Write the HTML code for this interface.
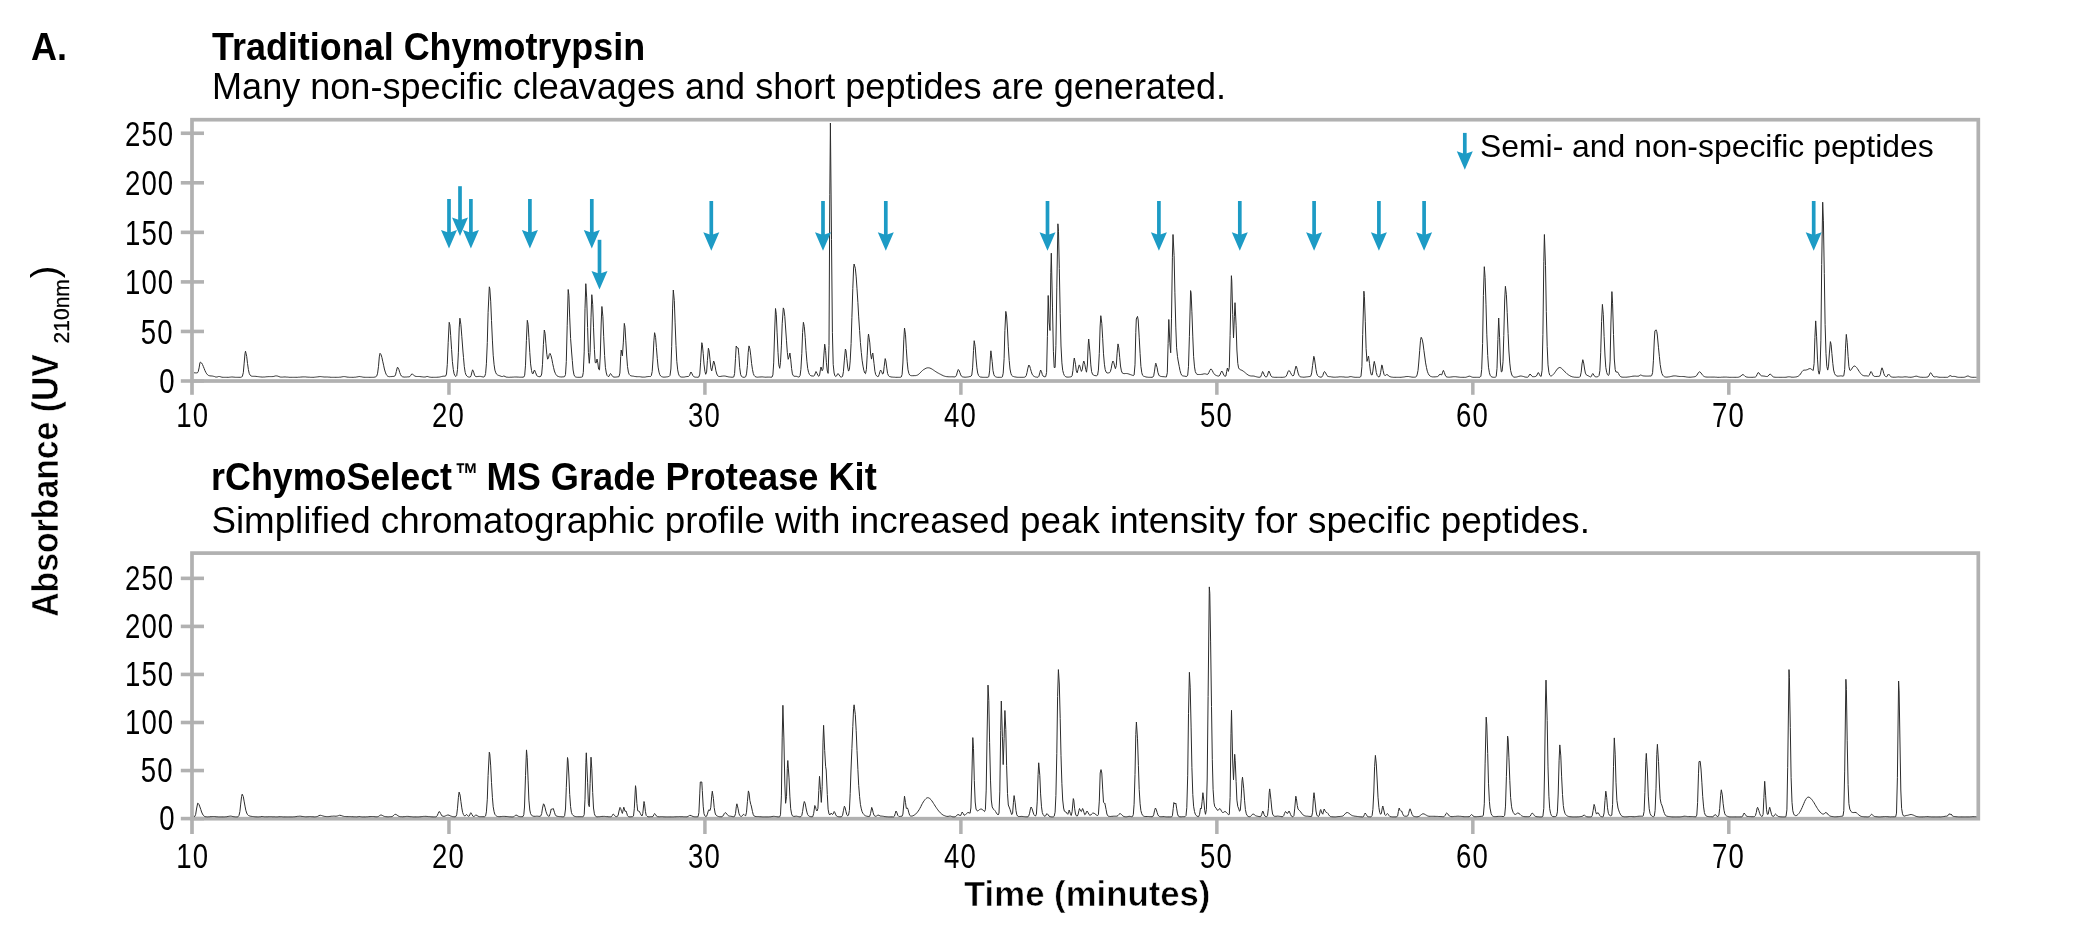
<!DOCTYPE html>
<html><head><meta charset="utf-8"><title>Chymotrypsin chromatograms</title>
<style>
html,body{margin:0;padding:0;background:#fff;}
body{width:2084px;height:938px;position:relative;overflow:hidden;font-family:"Liberation Sans",sans-serif;}
</style></head><body>
<svg width="2084" height="938" viewBox="0 0 2084 938" style="position:absolute;left:0;top:0;will-change:transform">
<rect x="192.00" y="119.70" width="1786.30" height="261.30" fill="none" stroke="#b1b1b1" stroke-width="3.7"/>
<path d="M192.00 381.00 V394.80" stroke="#b1b1b1" stroke-width="3.7"/>
<path d="M448.95 381.00 V394.80" stroke="#b1b1b1" stroke-width="3.5"/>
<path d="M704.92 381.00 V394.80" stroke="#b1b1b1" stroke-width="3.5"/>
<path d="M960.89 381.00 V394.80" stroke="#b1b1b1" stroke-width="3.5"/>
<path d="M1216.86 381.00 V394.80" stroke="#b1b1b1" stroke-width="3.5"/>
<path d="M1472.83 381.00 V394.80" stroke="#b1b1b1" stroke-width="3.5"/>
<path d="M1728.80 381.00 V394.80" stroke="#b1b1b1" stroke-width="3.5"/>
<path d="M180.80 381.00 H204.00" stroke="#b1b1b1" stroke-width="3.6"/>
<path d="M180.80 331.45 H204.00" stroke="#b1b1b1" stroke-width="3.6"/>
<path d="M180.80 281.90 H204.00" stroke="#b1b1b1" stroke-width="3.6"/>
<path d="M180.80 232.35 H204.00" stroke="#b1b1b1" stroke-width="3.6"/>
<path d="M180.80 182.80 H204.00" stroke="#b1b1b1" stroke-width="3.6"/>
<path d="M180.80 133.25 H204.00" stroke="#b1b1b1" stroke-width="3.6"/>
<rect x="192.00" y="553.10" width="1786.30" height="265.60" fill="none" stroke="#b1b1b1" stroke-width="3.7"/>
<path d="M192.00 818.70 V834.00" stroke="#b1b1b1" stroke-width="3.7"/>
<path d="M448.95 818.70 V834.00" stroke="#b1b1b1" stroke-width="3.5"/>
<path d="M704.92 818.70 V834.00" stroke="#b1b1b1" stroke-width="3.5"/>
<path d="M960.89 818.70 V834.00" stroke="#b1b1b1" stroke-width="3.5"/>
<path d="M1216.86 818.70 V834.00" stroke="#b1b1b1" stroke-width="3.5"/>
<path d="M1472.83 818.70 V834.00" stroke="#b1b1b1" stroke-width="3.5"/>
<path d="M1728.80 818.70 V834.00" stroke="#b1b1b1" stroke-width="3.5"/>
<path d="M180.80 818.60 H204.00" stroke="#b1b1b1" stroke-width="3.6"/>
<path d="M180.80 770.55 H204.00" stroke="#b1b1b1" stroke-width="3.6"/>
<path d="M180.80 722.50 H204.00" stroke="#b1b1b1" stroke-width="3.6"/>
<path d="M180.80 674.45 H204.00" stroke="#b1b1b1" stroke-width="3.6"/>
<path d="M180.80 626.40 H204.00" stroke="#b1b1b1" stroke-width="3.6"/>
<path d="M180.80 578.35 H204.00" stroke="#b1b1b1" stroke-width="3.6"/>
<path d="M194.0 372.8 L194.8 372.8 L195.7 372.9 L196.5 372.9 L197.4 372.8 L198.2 371.7 L199.1 367.9 L199.9 363.0 L200.4 362.1 L201.6 363.0 L202.5 364.5 L203.3 366.4 L204.2 368.6 L205.0 370.7 L205.9 372.5 L206.7 373.8 L207.6 374.8 L208.4 375.4 L209.3 375.7 L210.1 375.9 L211.0 375.9 L211.8 376.0 L212.7 376.1 L213.5 376.3 L214.4 376.5 L215.2 376.9 L216.1 377.0 L216.9 377.0 L217.8 376.8 L218.6 376.5 L219.5 376.5 L220.3 376.7 L221.2 377.0 L222.0 377.2 L222.9 377.3 L223.7 377.3 L224.6 377.3 L225.4 377.3 L226.3 377.3 L227.1 377.3 L228.0 377.3 L228.8 377.3 L229.7 377.2 L230.5 377.1 L231.4 377.0 L232.2 377.0 L233.1 377.0 L233.9 377.2 L234.8 377.2 L235.6 377.3 L236.5 377.3 L237.3 377.3 L238.2 377.3 L239.0 377.3 L239.9 377.3 L240.7 377.3 L241.6 377.1 L242.4 376.2 L243.3 372.7 L244.1 363.9 L245.0 353.5 L245.5 351.2 L246.7 356.4 L247.5 363.4 L248.4 369.6 L249.2 373.3 L250.1 375.1 L250.9 375.9 L251.8 376.2 L252.6 376.3 L253.5 376.3 L254.3 376.3 L255.2 376.3 L256.0 376.4 L256.9 376.5 L257.7 376.6 L258.6 376.7 L259.4 376.8 L260.3 376.9 L261.1 377.0 L262.0 377.0 L262.8 377.1 L263.7 377.0 L264.5 377.0 L265.4 376.9 L266.2 376.8 L267.1 376.7 L267.9 376.7 L268.8 376.6 L269.6 376.6 L270.5 376.6 L271.4 376.6 L272.2 376.6 L273.1 376.5 L273.9 376.4 L274.8 376.1 L275.6 375.9 L276.5 375.9 L277.3 376.0 L278.2 376.3 L279.0 376.6 L279.9 376.9 L280.7 377.1 L281.6 377.1 L282.4 377.1 L283.3 377.0 L284.1 377.0 L285.0 376.9 L285.8 377.0 L286.7 377.1 L287.5 377.1 L288.4 377.2 L289.2 377.3 L290.1 377.3 L290.9 377.3 L291.8 377.3 L292.6 377.3 L293.5 377.3 L294.3 377.3 L295.2 377.3 L296.0 377.3 L296.9 377.3 L297.7 377.3 L298.6 377.2 L299.4 377.2 L300.3 377.1 L301.1 377.0 L302.0 377.0 L302.8 376.9 L303.7 376.9 L304.5 376.9 L305.4 376.9 L306.2 377.0 L307.1 377.1 L307.9 377.1 L308.8 377.2 L309.6 377.2 L310.5 377.3 L311.3 377.3 L312.2 377.3 L313.0 377.3 L313.9 377.3 L314.7 377.2 L315.6 377.1 L316.4 377.0 L317.3 376.9 L318.1 376.8 L319.0 376.7 L319.8 376.6 L320.7 376.6 L321.5 376.7 L322.4 376.8 L323.2 376.9 L324.1 377.0 L324.9 377.0 L325.8 377.0 L326.6 377.0 L327.5 377.0 L328.3 377.1 L329.2 377.1 L330.0 377.2 L330.9 377.3 L331.7 377.3 L332.6 377.3 L333.4 377.3 L334.3 377.3 L335.1 377.3 L336.0 377.3 L336.8 377.3 L337.7 377.3 L338.5 377.3 L339.4 377.2 L340.2 377.2 L341.1 377.0 L341.9 376.9 L342.8 376.7 L343.6 376.6 L344.5 376.6 L345.3 376.7 L346.2 376.9 L347.0 377.0 L347.9 377.2 L348.7 377.2 L349.6 377.3 L350.4 377.3 L351.3 377.3 L352.1 377.3 L353.0 377.3 L353.8 377.3 L354.7 377.2 L355.5 377.2 L356.4 377.0 L357.2 376.9 L358.1 376.7 L358.9 376.6 L359.8 376.5 L360.6 376.7 L361.5 376.8 L362.3 377.0 L363.2 377.2 L364.0 377.2 L364.9 377.3 L365.7 377.3 L366.6 377.3 L367.4 377.3 L368.3 377.3 L369.1 377.3 L370.0 377.3 L370.8 377.3 L371.7 377.3 L372.5 377.3 L373.4 377.3 L374.2 377.2 L375.1 377.0 L375.9 376.7 L376.8 375.9 L377.6 373.2 L378.5 366.3 L379.3 356.9 L380.0 353.3 L381.0 354.6 L381.9 357.4 L382.7 361.2 L383.6 365.2 L384.4 369.0 L385.3 372.1 L386.1 374.2 L387.0 375.6 L387.8 376.3 L388.7 376.6 L389.5 376.7 L390.4 376.6 L391.2 376.6 L392.1 376.5 L392.9 376.4 L393.8 376.4 L394.6 376.2 L395.5 374.9 L396.3 371.6 L397.2 367.9 L397.6 367.2 L398.9 369.5 L399.7 372.4 L400.6 374.7 L401.4 376.0 L402.3 376.7 L403.1 376.9 L404.0 377.0 L404.8 377.1 L405.7 377.0 L406.5 377.0 L407.4 376.9 L408.2 376.9 L409.1 376.8 L409.9 376.5 L410.8 375.3 L411.7 374.0 L412.5 374.2 L413.3 374.8 L414.2 375.6 L415.0 376.1 L415.9 376.4 L416.7 376.5 L417.6 376.5 L418.4 376.5 L419.3 376.5 L420.1 376.6 L421.0 376.7 L421.8 376.8 L422.7 376.9 L423.5 377.0 L424.4 377.0 L425.2 377.0 L426.1 376.7 L426.9 376.5 L427.8 376.5 L428.6 376.8 L429.5 377.1 L430.3 377.2 L431.2 377.3 L432.0 377.3 L432.9 377.3 L433.7 377.3 L434.6 377.3 L435.4 377.3 L436.3 377.3 L437.1 377.2 L438.0 377.2 L438.8 377.1 L439.7 377.0 L440.5 376.8 L441.4 376.6 L442.2 376.4 L443.1 376.2 L443.9 376.2 L444.8 376.2 L445.6 376.1 L446.5 374.0 L447.3 364.3 L448.2 342.3 L449.2 322.3 L449.9 324.9 L450.7 335.7 L451.6 349.6 L452.4 361.6 L453.3 369.5 L454.1 373.8 L455.0 375.8 L455.8 376.5 L456.7 375.6 L457.5 369.5 L458.4 352.2 L459.2 327.9 L459.9 318.2 L460.9 324.6 L461.8 336.3 L463.0 352.0 L463.5 357.6 L464.3 366.7 L465.2 372.4 L466.0 374.9 L466.9 376.1 L467.7 376.7 L468.6 377.0 L469.4 377.1 L470.3 377.0 L471.1 375.7 L472.0 371.7 L472.6 369.8 L473.7 372.2 L474.5 375.1 L475.4 376.4 L476.2 376.6 L477.1 376.6 L477.9 376.5 L478.8 376.4 L479.6 376.4 L480.5 376.4 L481.3 376.6 L482.2 376.8 L483.0 376.9 L483.9 377.0 L484.7 376.4 L485.6 373.5 L486.4 363.8 L487.3 342.5 L488.1 312.4 L489.3 286.8 L489.8 288.7 L490.7 301.2 L491.5 320.6 L492.4 340.1 L493.2 355.2 L494.1 364.8 L494.9 370.1 L495.8 372.8 L496.6 374.2 L497.5 374.9 L498.3 375.3 L499.2 375.6 L500.0 375.9 L500.9 376.2 L501.7 376.5 L502.6 376.5 L503.4 376.1 L504.0 376.0 L505.1 376.5 L506.0 377.0 L506.8 377.2 L507.7 377.2 L508.5 377.3 L509.4 377.3 L510.2 377.2 L511.1 377.2 L511.9 377.2 L512.8 377.1 L513.6 377.1 L514.5 377.0 L515.3 377.0 L516.2 377.0 L517.0 377.0 L517.9 377.1 L518.7 377.1 L519.6 377.2 L520.4 377.2 L521.3 377.2 L522.1 377.2 L523.0 377.2 L523.8 377.0 L524.7 375.2 L525.5 365.2 L526.4 340.6 L527.3 320.3 L528.1 324.3 L528.9 337.4 L529.8 352.5 L530.6 363.9 L531.5 370.5 L532.3 373.5 L533.2 373.5 L534.0 370.8 L534.5 370.0 L535.7 372.8 L536.6 375.2 L537.4 376.2 L538.3 376.5 L539.1 376.7 L540.0 376.7 L540.8 376.3 L541.7 374.0 L542.5 364.3 L543.4 344.6 L544.3 330.0 L545.1 333.4 L545.9 343.8 L546.8 354.3 L547.6 359.2 L548.5 357.9 L549.3 354.3 L550.0 353.4 L551.0 355.7 L551.9 359.3 L552.7 363.6 L553.6 367.7 L554.4 371.0 L555.3 373.3 L556.1 374.8 L557.0 375.8 L557.8 376.3 L558.7 376.6 L559.5 376.8 L560.4 376.9 L561.2 377.0 L562.1 376.9 L562.9 376.9 L563.8 376.8 L564.6 376.6 L565.5 374.5 L566.3 361.5 L567.2 325.8 L568.2 289.5 L568.9 295.3 L569.7 317.1 L570.6 338.5 L571.6 352.0 L572.3 360.5 L573.1 370.0 L574.0 374.8 L574.8 376.4 L575.7 377.0 L576.5 377.2 L577.4 377.3 L578.2 377.3 L579.1 377.3 L579.9 377.3 L580.8 377.2 L581.6 377.1 L582.5 376.7 L583.3 372.4 L584.2 351.9 L585.0 308.8 L585.8 283.7 L586.7 297.9 L587.6 327.4 L588.4 352.5 L589.3 363.3 L590.1 352.5 L591.0 317.9 L591.8 294.7 L592.7 304.4 L593.5 327.2 L594.4 349.5 L595.2 362.5 L596.1 363.0 L597.0 359.0 L597.8 362.8 L598.6 369.2 L599.5 369.9 L600.3 355.0 L601.2 323.0 L601.9 306.5 L602.9 316.6 L603.7 336.7 L604.6 355.5 L605.4 367.3 L606.3 373.0 L607.1 375.5 L608.0 376.5 L608.8 376.5 L609.7 374.9 L610.5 373.5 L611.4 374.4 L612.2 375.9 L613.1 376.8 L613.9 377.1 L614.8 377.1 L615.6 377.1 L616.5 377.0 L617.3 376.9 L618.2 376.8 L619.0 376.6 L619.9 373.1 L620.7 356.7 L621.2 350.0 L622.4 355.9 L623.3 342.9 L624.3 323.4 L625.0 327.3 L625.8 340.8 L626.7 356.0 L627.5 366.6 L628.4 372.1 L629.2 374.4 L630.1 375.4 L630.9 375.8 L631.8 376.0 L632.6 376.1 L633.5 376.2 L634.3 376.4 L635.2 376.5 L636.0 376.7 L636.9 376.7 L637.7 376.7 L638.6 376.7 L639.4 376.7 L640.3 376.8 L641.1 376.9 L642.0 377.1 L642.8 377.1 L643.7 377.1 L644.5 377.1 L645.4 377.0 L646.2 376.8 L647.1 376.7 L647.9 376.6 L648.8 376.5 L649.6 376.5 L650.5 376.5 L651.3 375.7 L652.2 371.5 L653.0 359.1 L653.9 340.8 L654.6 332.7 L655.6 337.4 L656.4 347.6 L657.3 358.7 L658.1 367.1 L659.0 372.1 L659.8 374.7 L660.7 376.0 L661.5 376.6 L662.4 376.9 L663.2 377.1 L664.1 377.1 L664.9 377.1 L665.8 377.0 L666.6 376.9 L667.5 376.8 L668.3 376.6 L669.2 376.4 L670.0 375.4 L670.9 369.0 L671.7 346.3 L672.6 308.1 L673.3 290.0 L674.3 300.5 L675.1 322.9 L676.0 345.5 L676.8 361.3 L677.7 369.9 L678.5 373.9 L679.4 375.8 L680.2 376.7 L681.1 377.0 L681.9 377.1 L682.8 377.1 L683.6 377.1 L684.5 377.0 L685.3 376.8 L686.2 376.7 L687.0 376.5 L687.9 376.5 L688.7 376.3 L689.6 375.4 L690.4 373.0 L691.0 372.0 L692.1 373.9 L693.0 375.8 L693.8 376.7 L694.7 377.0 L695.5 377.2 L696.4 377.2 L697.2 377.3 L698.1 377.2 L698.9 376.9 L699.8 374.1 L700.6 362.2 L701.8 342.7 L702.3 344.3 L703.2 353.3 L704.0 364.1 L704.9 371.3 L705.7 374.3 L706.6 372.1 L707.4 360.6 L708.4 348.2 L709.1 350.9 L710.0 359.5 L710.8 367.8 L711.7 370.9 L712.5 367.0 L713.6 361.0 L714.2 362.1 L715.1 366.1 L715.9 370.8 L716.8 374.0 L717.6 375.7 L718.5 376.3 L719.3 376.5 L720.2 376.5 L721.0 376.3 L721.9 376.2 L722.7 376.1 L723.6 376.0 L724.4 376.0 L725.3 376.1 L726.1 376.3 L727.0 376.5 L727.8 376.7 L728.7 376.9 L729.5 377.0 L730.4 377.1 L731.2 377.2 L732.1 377.2 L732.9 377.2 L733.8 376.9 L734.6 373.5 L735.5 358.3 L736.2 346.0 L737.2 347.8 L738.2 348.0 L738.9 355.5 L739.7 367.6 L740.6 374.3 L741.4 376.3 L742.3 376.9 L743.1 377.2 L744.0 377.3 L744.8 377.2 L745.7 376.7 L746.5 373.9 L747.4 365.4 L748.2 352.4 L749.0 345.9 L749.9 348.8 L750.8 355.8 L751.6 363.6 L752.5 369.7 L753.3 373.5 L754.2 375.5 L755.0 376.5 L755.9 376.9 L756.7 377.1 L757.6 377.2 L758.4 377.1 L759.3 377.0 L760.1 377.0 L761.0 376.9 L761.8 376.9 L762.7 376.9 L763.5 377.0 L764.4 377.1 L765.2 377.2 L766.1 377.2 L766.9 377.1 L767.8 377.1 L768.6 377.1 L769.5 377.1 L770.3 377.2 L771.2 377.2 L772.0 377.1 L772.9 374.9 L773.7 362.9 L774.6 333.0 L775.5 308.5 L776.3 314.5 L777.1 332.9 L778.0 352.3 L778.8 364.8 L779.7 368.3 L780.5 362.3 L781.4 345.9 L782.2 323.8 L783.3 307.9 L783.9 309.3 L784.8 316.5 L785.6 328.0 L786.5 340.8 L787.3 352.3 L788.2 359.3 L789.0 357.1 L789.9 353.0 L790.7 359.2 L791.6 368.5 L792.4 373.9 L793.3 375.7 L794.1 376.2 L795.0 376.3 L795.8 376.3 L796.7 376.4 L797.5 376.7 L798.4 377.0 L799.2 376.9 L800.1 375.5 L800.9 369.3 L801.8 353.7 L802.6 332.5 L803.4 322.3 L804.3 326.6 L805.2 337.5 L806.0 350.4 L806.9 361.2 L807.7 368.4 L808.6 372.4 L809.4 374.4 L810.3 375.4 L811.1 375.8 L812.0 376.0 L812.8 376.0 L813.7 376.0 L814.5 375.4 L815.4 372.9 L816.0 371.5 L817.1 373.5 L817.9 375.5 L818.8 376.3 L819.6 374.9 L820.5 369.2 L821.0 367.0 L822.2 370.8 L823.0 369.1 L823.9 355.1 L824.7 344.2 L825.6 350.5 L826.4 362.7 L827.3 371.0 L828.1 373.4 L829.0 345.5 L829.8 194.7 L830.4 123.0 L831.5 239.3 L832.4 332.3 L833.2 364.4 L834.1 373.0 L834.9 375.8 L835.8 376.5 L836.6 375.9 L837.5 374.1 L838.0 373.5 L839.2 375.0 L840.0 376.4 L840.9 377.0 L841.7 377.1 L842.6 376.2 L843.4 371.8 L844.3 360.9 L845.4 349.0 L846.0 350.7 L846.8 358.6 L847.7 367.0 L848.5 371.1 L849.4 369.5 L850.2 360.9 L851.1 343.5 L851.9 317.5 L852.8 288.6 L853.6 268.0 L854.1 264.0 L855.3 268.2 L856.2 276.9 L857.0 288.8 L857.9 302.6 L858.7 316.9 L859.6 330.5 L860.4 342.5 L861.3 352.4 L862.1 360.2 L863.0 366.1 L863.8 370.2 L864.7 372.9 L865.5 373.7 L866.4 369.5 L867.2 355.2 L868.1 337.5 L868.5 334.0 L869.8 342.9 L870.6 353.9 L871.5 359.1 L872.3 354.2 L872.8 353.0 L874.0 363.4 L874.9 371.2 L875.7 374.6 L876.6 375.9 L877.4 376.5 L878.3 376.5 L879.1 374.7 L880.0 371.4 L880.6 370.0 L881.7 371.7 L882.5 374.0 L883.4 373.4 L884.2 366.4 L885.2 358.6 L885.9 361.1 L886.8 368.1 L887.6 373.5 L888.5 375.7 L889.3 376.4 L890.2 376.7 L891.0 376.9 L891.9 377.1 L892.7 377.1 L893.6 377.2 L894.4 377.2 L895.3 377.3 L896.1 377.3 L897.0 377.3 L897.8 377.3 L898.7 377.3 L899.5 377.3 L900.4 377.3 L901.2 377.0 L902.1 374.5 L902.9 363.0 L903.8 339.9 L904.5 328.0 L905.5 334.8 L906.3 348.8 L907.2 361.8 L908.0 369.8 L908.9 373.5 L909.7 375.0 L910.6 375.5 L911.4 375.7 L912.3 375.7 L913.1 375.7 L914.0 375.7 L914.8 375.6 L915.7 375.6 L916.5 375.4 L917.4 375.1 L918.2 374.6 L919.1 373.9 L919.9 373.1 L920.8 372.2 L921.6 371.3 L922.5 370.5 L923.3 369.8 L924.2 369.3 L925.0 368.8 L925.9 368.3 L926.7 368.0 L927.6 367.8 L928.4 367.8 L929.3 367.9 L930.1 368.2 L931.0 368.5 L931.8 369.0 L932.7 369.5 L933.5 370.1 L934.4 370.7 L935.2 371.3 L936.1 371.8 L936.9 372.4 L937.8 372.9 L938.6 373.3 L939.5 373.8 L940.3 374.2 L941.2 374.7 L942.0 375.1 L942.9 375.5 L943.7 375.9 L944.6 376.2 L945.4 376.4 L946.3 376.6 L947.1 376.7 L948.0 376.7 L948.8 376.8 L949.7 376.8 L950.5 376.8 L951.4 376.8 L952.2 376.8 L953.1 376.8 L953.9 376.9 L954.8 376.9 L955.6 376.6 L956.5 375.2 L957.3 372.1 L958.3 369.5 L959.0 370.3 L959.9 372.6 L960.7 374.9 L961.6 376.3 L962.4 376.8 L963.3 377.0 L964.1 377.1 L965.0 377.2 L965.8 377.2 L966.7 377.1 L967.5 377.0 L968.4 376.9 L969.2 376.7 L970.1 376.5 L970.9 376.3 L971.8 375.0 L972.6 367.9 L973.5 350.6 L974.2 340.7 L975.2 346.7 L976.0 358.1 L976.9 367.8 L977.7 373.1 L978.6 375.5 L979.4 376.5 L980.3 377.0 L981.1 377.1 L982.0 377.2 L982.8 377.3 L983.7 377.3 L984.5 377.3 L985.4 377.3 L986.2 377.3 L987.1 377.3 L987.9 377.2 L988.8 376.7 L989.6 370.9 L990.5 355.2 L990.9 350.8 L992.2 361.7 L993.0 370.7 L993.9 374.7 L994.7 376.2 L995.6 376.8 L996.4 377.1 L997.3 377.3 L998.1 377.3 L999.0 377.3 L999.8 377.3 L1000.7 377.3 L1001.5 377.3 L1002.4 376.8 L1003.2 373.2 L1004.1 358.7 L1004.9 330.4 L1005.8 311.4 L1006.6 316.0 L1007.5 330.0 L1008.3 346.8 L1009.2 360.4 L1010.0 369.0 L1010.9 373.4 L1011.7 375.4 L1012.6 376.2 L1013.4 376.5 L1014.3 376.8 L1015.1 376.9 L1016.0 377.1 L1016.8 377.2 L1017.7 377.3 L1018.5 377.3 L1019.4 377.3 L1020.2 377.3 L1021.1 377.3 L1021.9 377.3 L1022.8 377.3 L1023.6 377.3 L1024.5 377.2 L1025.3 376.9 L1026.2 375.7 L1027.0 372.6 L1027.9 368.1 L1028.8 365.0 L1029.6 365.8 L1030.4 368.5 L1031.3 371.7 L1032.1 374.1 L1033.0 375.5 L1033.8 376.2 L1034.7 376.7 L1035.5 377.0 L1036.4 377.1 L1037.2 377.2 L1038.1 377.2 L1038.9 376.3 L1039.8 372.9 L1040.6 370.0 L1041.5 371.6 L1042.3 374.6 L1043.2 376.2 L1044.0 376.7 L1044.9 376.8 L1045.7 376.6 L1046.6 372.4 L1047.4 336.3 L1048.2 295.5 L1049.1 322.1 L1050.0 330.5 L1050.8 272.7 L1051.3 253.2 L1052.5 307.9 L1053.4 351.3 L1054.2 367.5 L1055.1 367.5 L1055.9 345.7 L1056.8 287.9 L1057.9 223.8 L1058.5 231.3 L1059.3 268.4 L1060.2 313.5 L1061.0 346.0 L1061.9 362.9 L1062.7 370.3 L1063.6 373.7 L1064.4 375.5 L1065.3 376.5 L1066.1 376.9 L1067.0 377.1 L1067.8 377.1 L1068.7 377.1 L1069.5 377.0 L1070.4 376.9 L1071.2 376.8 L1072.1 375.8 L1072.9 370.7 L1073.8 361.1 L1074.3 358.0 L1075.5 364.3 L1076.3 370.8 L1077.2 372.8 L1078.0 369.7 L1079.2 364.9 L1079.7 365.6 L1080.6 368.8 L1081.4 371.4 L1082.3 369.5 L1083.1 363.6 L1083.8 361.0 L1084.8 364.3 L1085.7 369.4 L1086.5 372.2 L1087.4 365.0 L1088.2 345.0 L1088.7 339.0 L1089.9 351.9 L1090.8 364.9 L1091.6 371.7 L1092.5 374.1 L1093.3 375.0 L1094.2 375.4 L1095.0 375.6 L1095.9 375.7 L1096.7 375.7 L1097.6 375.0 L1098.4 370.1 L1099.3 353.4 L1100.1 327.0 L1100.8 315.7 L1101.8 323.4 L1102.7 338.7 L1103.5 353.8 L1104.4 364.2 L1105.2 369.6 L1106.1 372.0 L1106.9 372.9 L1107.8 373.0 L1108.6 372.9 L1109.5 372.7 L1110.3 371.7 L1111.2 368.7 L1112.0 363.8 L1112.9 361.0 L1113.7 362.4 L1114.6 366.0 L1115.4 368.7 L1116.3 365.6 L1117.1 353.3 L1118.0 343.9 L1118.8 347.8 L1119.7 357.3 L1120.5 366.0 L1121.4 370.9 L1122.2 372.8 L1123.1 373.4 L1123.9 373.6 L1124.8 373.6 L1125.6 373.5 L1126.5 373.5 L1127.3 373.6 L1128.2 373.8 L1129.0 374.1 L1129.9 374.4 L1130.7 374.7 L1131.6 375.0 L1132.4 375.3 L1133.3 375.6 L1134.1 375.0 L1135.0 364.8 L1135.8 332.3 L1136.3 319.0 L1137.5 316.4 L1138.2 320.0 L1139.2 337.2 L1140.1 353.7 L1140.9 366.3 L1141.8 372.8 L1142.6 375.3 L1143.5 376.1 L1144.3 376.4 L1145.2 376.7 L1146.0 377.0 L1146.9 377.1 L1147.7 377.2 L1148.6 377.3 L1149.4 377.3 L1150.3 377.3 L1151.1 377.3 L1152.0 377.3 L1152.8 377.1 L1153.7 375.8 L1154.5 371.1 L1155.4 364.6 L1155.8 363.2 L1157.1 367.6 L1157.9 372.3 L1158.8 375.0 L1159.6 376.0 L1160.5 376.3 L1161.3 376.5 L1162.2 376.6 L1163.0 376.7 L1163.9 376.7 L1164.7 376.8 L1165.6 376.9 L1166.4 376.9 L1167.3 372.8 L1168.1 343.5 L1168.8 319.5 L1169.8 342.3 L1170.7 352.8 L1171.5 318.2 L1172.4 257.2 L1173.0 234.5 L1174.1 255.6 L1174.9 292.8 L1175.8 327.1 L1176.6 347.8 L1177.5 356.7 L1178.0 360.0 L1179.2 366.3 L1180.0 370.5 L1180.9 373.6 L1181.7 375.2 L1182.6 375.8 L1183.4 376.0 L1184.3 376.1 L1185.1 376.3 L1186.0 376.4 L1186.8 376.4 L1187.7 375.2 L1188.5 366.3 L1189.4 336.3 L1190.6 290.6 L1191.1 293.1 L1191.9 311.8 L1192.8 336.9 L1193.6 356.3 L1194.5 366.9 L1195.3 371.6 L1196.2 373.5 L1197.0 374.3 L1197.9 374.5 L1198.7 374.5 L1199.6 374.5 L1200.4 374.5 L1201.3 374.4 L1202.1 374.3 L1203.0 374.1 L1203.8 373.9 L1204.7 373.8 L1205.5 373.9 L1206.4 374.2 L1207.2 374.4 L1208.1 374.0 L1208.9 372.5 L1209.8 370.4 L1210.8 369.0 L1211.5 369.3 L1212.3 370.6 L1213.1 372.3 L1214.0 373.7 L1214.8 374.7 L1215.7 375.2 L1216.5 375.6 L1217.4 375.9 L1218.2 376.1 L1219.1 376.0 L1219.9 375.1 L1220.8 372.7 L1221.7 371.0 L1222.5 371.9 L1223.3 374.0 L1224.2 375.7 L1225.0 376.4 L1225.9 376.0 L1226.7 371.3 L1227.4 368.0 L1228.4 371.4 L1229.3 367.4 L1230.1 335.4 L1231.4 275.7 L1231.8 281.2 L1232.7 314.5 L1233.5 337.9 L1234.4 316.5 L1235.0 302.7 L1236.1 325.2 L1236.9 350.0 L1237.8 363.5 L1238.6 367.9 L1239.5 369.2 L1240.3 369.7 L1241.2 370.0 L1242.0 370.4 L1242.9 370.9 L1243.7 371.5 L1244.6 372.2 L1245.4 372.9 L1246.3 373.7 L1247.1 374.3 L1248.0 374.9 L1248.8 375.4 L1249.7 375.7 L1250.5 375.9 L1251.4 376.0 L1252.2 376.0 L1253.1 376.0 L1253.9 376.1 L1254.8 376.3 L1255.6 376.6 L1256.5 376.8 L1257.3 377.0 L1258.2 377.2 L1259.0 377.2 L1259.9 377.2 L1260.7 376.8 L1261.6 374.4 L1262.6 371.5 L1263.3 372.4 L1264.1 374.8 L1265.0 376.4 L1265.8 376.9 L1266.7 376.8 L1267.5 375.3 L1268.4 371.9 L1268.9 371.0 L1270.1 373.6 L1270.9 375.9 L1271.8 376.8 L1272.6 377.1 L1273.5 377.2 L1274.3 377.3 L1275.2 377.3 L1276.0 377.3 L1276.9 377.3 L1277.7 377.3 L1278.6 377.3 L1279.4 377.3 L1280.3 377.3 L1281.1 377.3 L1282.0 377.3 L1282.8 377.3 L1283.7 377.2 L1284.5 377.1 L1285.4 376.9 L1286.2 376.1 L1287.1 374.3 L1287.9 371.9 L1288.8 370.5 L1289.6 371.0 L1290.5 372.6 L1291.3 374.3 L1292.2 375.5 L1293.0 376.0 L1293.9 374.9 L1294.7 371.1 L1296.0 366.0 L1296.4 366.5 L1297.3 369.5 L1298.1 373.1 L1299.0 375.4 L1299.8 376.5 L1300.7 376.9 L1301.5 377.0 L1302.4 377.1 L1303.2 377.2 L1304.1 377.2 L1304.9 377.1 L1305.8 377.0 L1306.6 376.9 L1307.5 376.8 L1308.3 376.7 L1309.2 376.6 L1310.0 376.5 L1310.9 375.9 L1311.7 372.9 L1312.6 365.4 L1313.8 356.3 L1314.3 357.4 L1315.1 363.1 L1316.0 369.6 L1316.8 373.8 L1317.7 375.7 L1318.5 376.5 L1319.4 376.8 L1320.2 377.1 L1321.1 377.2 L1321.9 376.9 L1322.8 375.5 L1323.6 373.0 L1324.5 371.5 L1325.3 372.3 L1326.2 374.1 L1327.0 375.6 L1327.9 376.4 L1328.7 376.6 L1329.6 376.7 L1330.4 376.7 L1331.3 376.9 L1332.1 377.0 L1333.0 377.1 L1333.8 377.2 L1334.7 377.2 L1335.5 377.2 L1336.4 377.1 L1337.2 377.1 L1338.1 377.0 L1338.9 376.9 L1339.8 376.8 L1340.6 376.8 L1341.5 376.8 L1342.3 376.9 L1343.2 376.9 L1344.0 377.0 L1344.9 377.1 L1345.7 377.2 L1346.6 377.2 L1347.4 377.2 L1348.3 377.1 L1349.1 376.9 L1350.0 376.7 L1350.8 376.6 L1351.7 376.7 L1352.5 376.9 L1353.4 377.1 L1354.2 377.2 L1355.1 377.3 L1355.9 377.3 L1356.8 377.3 L1357.6 377.3 L1358.5 377.3 L1359.3 377.3 L1360.2 377.2 L1361.0 376.1 L1361.9 366.7 L1362.7 334.5 L1363.9 291.2 L1364.4 296.5 L1365.3 321.8 L1366.1 348.5 L1367.0 361.4 L1367.8 358.5 L1368.5 356.0 L1369.5 363.6 L1370.4 371.2 L1371.2 374.7 L1372.1 375.0 L1372.9 371.0 L1373.8 363.4 L1374.3 361.4 L1375.5 367.0 L1376.3 372.6 L1377.2 375.5 L1378.0 376.6 L1378.9 376.9 L1379.7 376.5 L1380.6 372.7 L1381.8 364.9 L1382.3 365.9 L1383.1 370.5 L1384.0 374.3 L1384.8 375.5 L1385.7 375.3 L1386.5 374.6 L1387.0 374.5 L1388.2 375.4 L1389.1 376.2 L1389.9 376.6 L1390.8 376.9 L1391.6 377.1 L1392.5 377.2 L1393.3 377.3 L1394.2 377.3 L1395.0 377.3 L1395.9 377.3 L1396.7 377.3 L1397.6 377.3 L1398.4 377.3 L1399.3 377.3 L1400.1 377.3 L1401.0 377.3 L1401.8 377.2 L1402.7 377.1 L1403.5 377.0 L1404.4 376.9 L1405.2 376.7 L1406.1 376.6 L1406.9 376.5 L1407.8 376.5 L1408.6 376.5 L1409.5 376.7 L1410.3 376.8 L1411.2 377.0 L1412.0 377.1 L1412.9 377.2 L1413.7 377.2 L1414.6 377.2 L1415.4 377.1 L1416.3 376.6 L1417.1 374.9 L1418.0 370.5 L1418.8 362.0 L1419.7 350.4 L1420.5 340.3 L1421.2 337.3 L1422.2 339.3 L1423.1 344.0 L1423.9 350.3 L1424.8 357.0 L1425.6 362.9 L1426.5 367.7 L1427.3 371.2 L1428.2 373.5 L1429.0 375.0 L1429.9 375.9 L1430.7 376.4 L1431.6 376.7 L1432.4 376.9 L1433.3 376.9 L1434.1 376.9 L1435.0 376.9 L1435.8 376.8 L1436.7 376.7 L1437.5 376.6 L1438.4 376.1 L1439.2 374.8 L1440.0 374.0 L1440.9 374.7 L1441.8 374.8 L1442.6 372.2 L1443.4 370.4 L1444.3 372.4 L1445.2 375.1 L1446.0 376.5 L1446.9 377.0 L1447.7 377.1 L1448.6 377.2 L1449.4 377.2 L1450.3 377.1 L1451.1 377.0 L1452.0 376.9 L1452.8 376.8 L1453.7 376.7 L1454.5 376.7 L1455.4 376.7 L1456.2 376.8 L1457.1 376.9 L1457.9 377.0 L1458.8 377.1 L1459.6 377.2 L1460.5 377.3 L1461.3 377.3 L1462.2 377.3 L1463.0 377.3 L1463.9 377.3 L1464.7 377.3 L1465.6 377.3 L1466.4 377.1 L1467.3 376.8 L1468.1 376.5 L1469.0 376.2 L1469.8 376.2 L1470.7 376.5 L1471.5 376.9 L1472.4 377.2 L1473.2 377.3 L1474.1 377.3 L1474.9 377.3 L1475.8 377.3 L1476.6 377.3 L1477.5 377.3 L1478.3 377.3 L1479.2 377.3 L1480.0 377.2 L1480.9 376.2 L1481.7 369.4 L1482.6 343.5 L1483.4 295.5 L1484.3 266.7 L1485.1 277.4 L1486.0 304.8 L1486.8 334.2 L1487.7 355.4 L1488.5 367.2 L1489.4 372.8 L1490.2 375.3 L1491.1 376.5 L1491.9 377.0 L1492.8 377.2 L1493.6 377.3 L1494.5 377.3 L1495.3 377.2 L1496.2 376.5 L1497.0 368.3 L1497.9 339.5 L1498.7 318.0 L1499.6 337.7 L1500.4 363.0 L1501.3 371.9 L1502.1 371.4 L1503.0 361.8 L1503.8 335.4 L1504.7 300.0 L1505.4 286.3 L1506.4 294.7 L1507.2 312.7 L1508.1 333.4 L1508.9 351.0 L1509.8 363.1 L1510.6 370.3 L1511.5 374.0 L1512.3 375.9 L1513.2 376.7 L1514.0 377.1 L1514.9 377.2 L1515.7 377.1 L1516.6 377.0 L1517.4 376.8 L1518.3 376.5 L1519.1 376.3 L1520.0 376.1 L1520.8 376.0 L1521.7 376.1 L1522.5 376.3 L1523.4 376.5 L1524.2 376.8 L1525.1 377.0 L1525.9 377.2 L1526.8 377.2 L1527.6 377.2 L1528.5 376.6 L1529.3 374.9 L1530.0 374.0 L1531.0 375.0 L1531.9 376.2 L1532.7 376.7 L1533.6 376.7 L1534.4 376.7 L1535.3 376.5 L1536.1 376.3 L1537.0 375.0 L1538.2 372.5 L1538.7 372.9 L1539.5 374.7 L1540.4 376.2 L1541.2 376.3 L1542.1 370.2 L1542.9 334.6 L1543.8 261.7 L1544.4 234.5 L1545.5 265.6 L1546.3 311.4 L1547.2 346.7 L1548.0 364.9 L1548.9 372.3 L1549.7 375.1 L1550.6 375.9 L1551.4 375.9 L1552.3 375.4 L1553.1 374.6 L1554.0 373.7 L1554.8 372.5 L1555.7 371.3 L1556.5 370.1 L1557.4 369.0 L1558.2 368.1 L1559.1 367.6 L1559.9 367.5 L1560.8 367.8 L1561.6 368.4 L1562.5 369.2 L1563.3 370.1 L1564.2 371.0 L1565.0 371.9 L1565.9 372.7 L1566.7 373.5 L1567.6 374.2 L1568.4 374.8 L1569.3 375.4 L1570.1 375.9 L1571.0 376.3 L1571.8 376.6 L1572.7 376.9 L1573.5 377.0 L1574.4 377.2 L1575.2 377.2 L1576.1 377.3 L1576.9 377.3 L1577.8 377.3 L1578.6 377.3 L1579.5 377.2 L1580.3 376.3 L1581.2 372.2 L1582.0 364.0 L1582.8 359.7 L1583.7 363.1 L1584.6 369.0 L1585.4 373.1 L1586.3 374.8 L1587.1 375.3 L1588.0 375.7 L1588.8 376.1 L1589.7 376.6 L1590.5 376.9 L1591.4 376.4 L1592.2 374.4 L1592.8 373.5 L1593.9 375.1 L1594.8 376.5 L1595.6 376.8 L1596.5 376.9 L1597.3 376.8 L1598.2 376.5 L1599.0 375.7 L1599.9 370.7 L1600.7 352.8 L1601.6 321.3 L1602.4 304.4 L1603.3 314.7 L1604.1 336.4 L1605.0 356.0 L1605.8 367.4 L1606.7 372.4 L1607.5 374.6 L1608.4 375.5 L1609.2 374.1 L1610.1 361.1 L1610.9 324.0 L1611.9 291.6 L1612.6 303.7 L1613.5 334.5 L1614.3 359.0 L1615.2 369.6 L1616.0 372.1 L1616.9 371.9 L1617.5 372.0 L1618.6 373.6 L1619.4 375.3 L1620.3 376.4 L1621.1 376.9 L1622.0 377.1 L1622.8 377.2 L1623.7 377.2 L1624.5 377.2 L1625.4 377.2 L1626.2 377.2 L1627.1 377.1 L1627.9 377.0 L1628.8 376.9 L1629.6 376.8 L1630.5 376.6 L1631.3 376.5 L1632.2 376.3 L1633.0 376.2 L1633.9 376.1 L1634.7 376.1 L1635.6 376.1 L1636.4 376.2 L1637.3 376.2 L1638.1 376.2 L1639.0 376.0 L1639.8 375.4 L1640.5 375.0 L1641.5 375.3 L1642.4 375.7 L1643.2 375.9 L1644.1 376.0 L1644.9 376.0 L1645.8 376.1 L1646.6 376.1 L1647.5 376.1 L1648.3 376.1 L1649.2 376.0 L1650.0 376.0 L1650.9 376.0 L1651.7 375.6 L1652.6 372.7 L1653.4 360.8 L1654.3 340.0 L1654.9 331.0 L1656.0 329.8 L1656.8 331.7 L1657.3 335.0 L1658.5 347.8 L1659.4 356.7 L1660.2 364.6 L1661.1 370.1 L1661.9 373.5 L1662.8 375.3 L1663.6 376.2 L1664.5 376.8 L1665.3 377.0 L1666.2 377.1 L1667.0 377.1 L1667.9 377.0 L1668.7 376.9 L1669.6 376.8 L1670.4 376.6 L1671.3 376.4 L1672.1 376.2 L1673.0 376.0 L1673.8 375.9 L1674.7 375.9 L1675.5 375.9 L1676.4 376.0 L1677.2 376.2 L1678.1 376.3 L1678.9 376.4 L1679.8 376.5 L1680.6 376.5 L1681.5 376.5 L1682.3 376.5 L1683.2 376.5 L1684.0 376.6 L1684.9 376.7 L1685.7 376.8 L1686.6 377.0 L1687.4 377.1 L1688.3 377.2 L1689.1 377.2 L1690.0 377.2 L1690.8 377.2 L1691.7 377.1 L1692.5 377.0 L1693.4 376.9 L1694.2 376.8 L1695.1 376.6 L1695.9 376.2 L1696.8 375.4 L1697.6 374.0 L1698.5 372.5 L1699.4 371.8 L1700.2 372.1 L1701.0 373.0 L1701.9 374.2 L1702.7 375.3 L1703.6 376.1 L1704.4 376.6 L1705.3 376.9 L1706.1 377.0 L1707.0 377.1 L1707.8 377.1 L1708.7 377.1 L1709.5 377.1 L1710.4 377.1 L1711.2 377.1 L1712.1 377.1 L1712.9 377.1 L1713.8 377.1 L1714.6 377.1 L1715.5 377.2 L1716.3 377.2 L1717.2 377.3 L1718.0 377.3 L1718.9 377.3 L1719.7 377.3 L1720.6 377.3 L1721.4 377.2 L1722.3 377.2 L1723.1 377.1 L1724.0 377.1 L1724.8 377.1 L1725.7 377.1 L1726.5 377.1 L1727.4 377.2 L1728.2 377.2 L1729.1 377.3 L1729.9 377.3 L1730.8 377.3 L1731.6 377.3 L1732.5 377.3 L1733.3 377.3 L1734.2 377.3 L1735.0 377.3 L1735.9 377.3 L1736.7 377.3 L1737.6 377.3 L1738.4 377.2 L1739.3 376.9 L1740.1 376.5 L1741.0 376.0 L1741.8 375.1 L1743.0 374.5 L1743.5 374.8 L1744.4 375.6 L1745.2 376.4 L1746.1 376.9 L1746.9 377.1 L1747.8 377.2 L1748.6 377.3 L1749.5 377.3 L1750.3 377.3 L1751.2 377.3 L1752.0 377.3 L1752.9 377.3 L1753.7 377.2 L1754.6 377.2 L1755.4 377.0 L1756.3 376.3 L1757.1 374.4 L1758.2 372.5 L1758.8 372.8 L1759.7 374.0 L1760.5 375.2 L1761.4 375.8 L1762.2 375.9 L1763.1 376.0 L1763.9 376.1 L1764.8 376.2 L1765.6 376.4 L1766.5 376.5 L1767.3 376.5 L1768.2 376.0 L1769.0 374.9 L1770.0 374.0 L1770.7 374.3 L1771.6 375.3 L1772.4 376.3 L1773.3 376.9 L1774.1 377.1 L1775.0 377.2 L1775.8 377.3 L1776.7 377.3 L1777.5 377.3 L1778.4 377.3 L1779.2 377.3 L1780.1 377.3 L1780.9 377.3 L1781.8 377.3 L1782.6 377.3 L1783.5 377.3 L1784.3 377.3 L1785.2 377.3 L1786.0 377.2 L1786.9 377.1 L1787.7 376.9 L1788.6 376.8 L1789.4 376.8 L1790.3 376.9 L1791.1 377.1 L1792.0 377.2 L1792.8 377.2 L1793.7 377.2 L1794.5 377.1 L1795.4 377.0 L1796.2 376.9 L1797.1 376.7 L1797.9 376.3 L1798.8 375.8 L1799.6 375.1 L1800.5 374.0 L1801.3 372.7 L1802.2 371.4 L1803.0 370.5 L1803.5 370.3 L1804.7 370.1 L1805.6 370.1 L1806.4 369.9 L1807.3 369.7 L1808.1 369.2 L1809.0 368.8 L1809.8 368.6 L1810.7 368.7 L1811.5 369.2 L1812.4 370.1 L1813.2 370.5 L1814.1 363.6 L1814.9 337.6 L1815.7 320.9 L1816.6 336.8 L1817.5 359.1 L1818.3 370.9 L1819.2 374.2 L1820.0 370.1 L1820.9 340.2 L1821.7 264.5 L1822.7 202.2 L1823.4 220.8 L1824.3 273.7 L1825.1 324.3 L1826.0 353.7 L1826.8 366.3 L1827.7 370.1 L1828.5 366.1 L1829.4 353.0 L1830.4 341.6 L1831.1 344.4 L1831.9 353.5 L1832.8 363.3 L1833.6 370.0 L1834.5 373.4 L1835.3 374.9 L1836.2 375.6 L1837.0 376.0 L1837.9 376.2 L1838.7 376.1 L1839.6 376.0 L1840.4 375.9 L1841.3 375.9 L1842.1 376.0 L1843.0 376.2 L1843.8 375.7 L1844.7 369.4 L1845.5 348.2 L1846.3 334.4 L1847.2 342.4 L1848.1 356.5 L1848.9 366.5 L1849.8 370.2 L1850.6 370.4 L1851.5 369.3 L1852.3 367.9 L1853.2 366.7 L1854.0 366.0 L1854.9 366.1 L1855.7 366.6 L1856.6 367.5 L1857.4 368.6 L1858.3 370.0 L1859.1 371.3 L1860.0 372.6 L1860.8 373.7 L1861.7 374.6 L1862.5 375.2 L1863.4 375.6 L1864.2 375.8 L1865.1 375.9 L1865.9 375.8 L1866.8 375.9 L1867.6 376.0 L1868.5 376.0 L1869.3 375.3 L1870.2 373.0 L1871.0 371.5 L1871.9 372.7 L1872.7 374.8 L1873.6 376.0 L1874.4 376.4 L1875.3 376.5 L1876.1 376.5 L1877.0 376.4 L1877.8 376.4 L1878.7 376.4 L1879.5 376.2 L1880.4 374.5 L1881.2 370.2 L1882.0 367.8 L1882.9 370.0 L1883.8 373.5 L1884.6 375.6 L1885.5 376.4 L1886.3 376.7 L1887.2 376.3 L1888.0 374.6 L1888.6 374.0 L1889.7 375.3 L1890.6 376.5 L1891.4 376.9 L1892.3 377.1 L1893.1 377.2 L1894.0 377.2 L1894.8 377.2 L1895.7 377.2 L1896.5 377.1 L1897.4 377.0 L1898.2 376.9 L1899.1 377.0 L1899.9 377.0 L1900.8 377.1 L1901.6 377.1 L1902.5 377.1 L1903.3 377.0 L1904.2 376.9 L1905.0 376.8 L1905.9 376.9 L1906.7 376.9 L1907.6 377.0 L1908.4 377.2 L1909.3 377.2 L1910.1 377.3 L1911.0 377.2 L1911.8 377.2 L1912.7 377.0 L1913.5 376.8 L1914.4 376.5 L1915.2 376.3 L1916.1 376.2 L1916.9 376.2 L1917.8 376.5 L1918.6 376.8 L1919.5 377.0 L1920.3 377.2 L1921.2 377.2 L1922.0 377.3 L1922.9 377.3 L1923.7 377.3 L1924.6 377.3 L1925.4 377.3 L1926.3 377.2 L1927.1 377.1 L1928.0 376.9 L1928.8 376.0 L1929.7 374.1 L1930.6 372.7 L1931.4 373.4 L1932.2 374.9 L1933.1 376.2 L1933.9 376.8 L1934.8 376.9 L1935.6 376.8 L1936.5 376.7 L1937.3 376.9 L1938.2 377.1 L1939.0 377.2 L1939.9 377.3 L1940.7 377.3 L1941.6 377.3 L1942.4 377.3 L1943.3 377.3 L1944.1 377.3 L1945.0 377.3 L1945.8 377.3 L1946.7 377.3 L1947.5 377.3 L1948.4 377.0 L1949.2 376.1 L1950.0 375.5 L1950.9 375.9 L1951.8 376.4 L1952.6 376.5 L1953.5 376.4 L1954.3 376.4 L1955.2 376.5 L1956.0 376.8 L1956.9 377.0 L1957.7 377.2 L1958.6 377.3 L1959.4 377.3 L1960.3 377.3 L1961.1 377.3 L1962.0 377.3 L1962.8 377.3 L1963.7 377.3 L1964.5 377.2 L1965.4 376.9 L1966.2 376.5 L1967.1 376.1 L1967.9 376.0 L1968.8 376.2 L1969.6 376.7 L1970.5 377.0 L1971.3 377.2 L1972.2 377.3 L1973.0 377.3 L1973.9 377.3 L1974.7 377.3 L1975.6 377.3 L1976.4 377.3" fill="none" stroke="#2c2c2c" stroke-width="1" stroke-linejoin="round"/>
<path d="M194.0 816.8 L194.8 816.4 L195.7 814.3 L196.5 809.0 L197.7 803.2 L198.2 803.4 L199.1 804.7 L199.9 806.9 L200.8 809.5 L201.6 812.0 L202.5 814.0 L203.3 815.3 L204.2 816.2 L205.0 816.6 L205.9 816.8 L206.7 816.8 L207.6 816.9 L208.4 816.8 L209.3 816.8 L210.1 816.7 L211.0 816.6 L211.8 816.6 L212.7 816.5 L213.5 816.5 L214.4 816.5 L215.2 816.6 L216.1 816.7 L216.9 816.8 L217.8 816.8 L218.6 816.9 L219.5 816.9 L220.3 816.9 L221.2 816.9 L222.0 816.9 L222.9 816.9 L223.7 816.9 L224.6 816.9 L225.4 816.8 L226.3 816.8 L227.1 816.6 L228.0 816.5 L228.8 816.3 L229.7 816.2 L230.5 816.1 L231.4 816.2 L232.2 816.4 L233.1 816.6 L233.9 816.7 L234.8 816.8 L235.6 816.9 L236.5 816.9 L237.3 816.9 L238.2 816.6 L239.0 815.4 L239.9 811.5 L240.7 804.1 L241.6 796.4 L242.2 794.2 L243.3 796.6 L244.1 801.1 L245.0 806.1 L245.8 810.2 L246.7 813.0 L247.5 814.6 L248.4 815.4 L249.2 815.8 L250.1 816.1 L250.9 816.3 L251.8 816.4 L252.6 816.5 L253.5 816.6 L254.3 816.7 L255.2 816.8 L256.0 816.8 L256.9 816.9 L257.7 816.9 L258.6 816.9 L259.4 816.8 L260.3 816.8 L261.1 816.6 L262.0 816.5 L262.8 816.6 L263.7 816.7 L264.5 816.8 L265.4 816.8 L266.2 816.8 L267.1 816.8 L267.9 816.8 L268.8 816.7 L269.6 816.7 L270.5 816.7 L271.4 816.7 L272.2 816.8 L273.1 816.8 L273.9 816.8 L274.8 816.8 L275.6 816.9 L276.5 816.9 L277.3 816.9 L278.2 816.8 L279.0 816.7 L279.9 816.7 L280.7 816.7 L281.6 816.7 L282.4 816.8 L283.3 816.9 L284.1 816.9 L285.0 816.9 L285.8 816.9 L286.7 816.9 L287.5 816.9 L288.4 816.9 L289.2 816.9 L290.1 816.9 L290.9 816.9 L291.8 816.9 L292.6 816.9 L293.5 816.8 L294.3 816.8 L295.2 816.7 L296.0 816.6 L296.9 816.5 L297.7 816.3 L298.6 816.3 L299.4 816.2 L300.3 816.2 L301.1 816.3 L302.0 816.4 L302.8 816.5 L303.7 816.6 L304.5 816.7 L305.4 816.8 L306.2 816.8 L307.1 816.8 L307.9 816.7 L308.8 816.7 L309.6 816.6 L310.5 816.6 L311.3 816.7 L312.2 816.7 L313.0 816.8 L313.9 816.8 L314.7 816.9 L315.6 816.8 L316.4 816.7 L317.3 816.5 L318.1 816.1 L319.0 815.6 L320.0 815.3 L320.7 815.3 L321.5 815.5 L322.4 815.8 L323.2 816.0 L324.1 816.3 L324.9 816.4 L325.8 816.5 L326.6 816.6 L327.5 816.6 L328.3 816.6 L329.2 816.5 L330.0 816.4 L330.9 816.3 L331.7 816.2 L332.6 816.2 L333.4 816.1 L334.3 816.1 L335.1 816.2 L336.0 816.2 L336.8 816.1 L337.7 815.9 L338.5 815.6 L339.4 815.3 L340.0 815.3 L341.1 815.5 L341.9 815.8 L342.8 816.1 L343.6 816.3 L344.5 816.5 L345.3 816.5 L346.2 816.6 L347.0 816.6 L347.9 816.6 L348.7 816.6 L349.6 816.6 L350.4 816.6 L351.3 816.7 L352.1 816.7 L353.0 816.7 L353.8 816.8 L354.7 816.8 L355.5 816.8 L356.4 816.9 L357.2 816.8 L358.1 816.7 L358.9 816.6 L359.8 816.5 L360.6 816.7 L361.5 816.8 L362.3 816.9 L363.2 816.9 L364.0 816.9 L364.9 816.9 L365.7 816.9 L366.6 816.8 L367.4 816.8 L368.3 816.7 L369.1 816.6 L370.0 816.6 L370.8 816.5 L371.7 816.5 L372.5 816.5 L373.4 816.5 L374.2 816.6 L375.1 816.7 L375.9 816.8 L376.8 816.8 L377.6 816.7 L378.5 816.4 L379.3 815.8 L380.2 815.2 L381.0 815.0 L381.9 815.2 L382.7 815.6 L383.6 816.1 L384.4 816.4 L385.3 816.6 L386.1 816.7 L387.0 816.8 L387.8 816.8 L388.7 816.8 L389.5 816.7 L390.4 816.7 L391.2 816.7 L392.1 816.5 L392.9 816.1 L393.8 815.3 L394.6 814.5 L395.2 814.3 L396.3 814.6 L397.2 815.2 L398.0 815.8 L398.9 816.3 L399.7 816.5 L400.6 816.7 L401.4 816.7 L402.3 816.8 L403.1 816.7 L404.0 816.7 L404.8 816.6 L405.7 816.5 L406.5 816.4 L407.4 816.4 L408.2 816.4 L409.1 816.5 L409.9 816.6 L410.8 816.7 L411.6 816.7 L412.5 816.8 L413.3 816.9 L414.2 816.9 L415.0 816.9 L415.9 816.9 L416.7 816.9 L417.6 816.9 L418.4 816.9 L419.3 816.8 L420.1 816.8 L421.0 816.7 L421.8 816.6 L422.7 816.5 L423.5 816.4 L424.4 816.4 L425.2 816.3 L426.1 816.4 L426.9 816.4 L427.8 816.5 L428.6 816.6 L429.5 816.6 L430.3 816.7 L431.2 816.8 L432.0 816.8 L432.9 816.9 L433.7 816.9 L434.6 816.9 L435.4 816.9 L436.3 816.7 L437.1 815.9 L438.0 813.8 L439.1 811.5 L439.7 811.8 L440.5 813.3 L441.4 815.0 L442.2 816.0 L443.1 816.3 L443.9 816.3 L444.8 816.2 L445.6 815.8 L446.5 815.4 L447.3 815.1 L448.0 815.0 L449.0 815.2 L449.9 815.6 L450.7 816.0 L451.6 816.3 L452.4 816.6 L453.3 816.7 L454.1 816.8 L455.0 816.8 L455.8 816.6 L456.7 814.8 L457.5 808.2 L458.4 797.3 L459.1 792.1 L460.1 795.1 L460.9 801.4 L461.8 807.9 L462.6 812.3 L463.5 814.7 L464.3 815.8 L465.2 815.8 L466.4 814.5 L466.9 814.7 L467.7 815.7 L468.6 816.3 L469.4 815.9 L470.3 813.6 L470.8 812.7 L472.0 814.6 L472.8 816.1 L473.7 816.5 L474.5 816.1 L475.4 815.3 L476.0 815.0 L477.1 815.5 L477.9 816.1 L478.8 816.5 L479.6 816.7 L480.5 816.7 L481.3 816.7 L482.2 816.7 L483.0 816.7 L483.9 816.7 L484.7 816.7 L485.6 815.9 L486.4 811.9 L487.3 799.2 L488.1 775.6 L489.3 752.2 L489.8 754.1 L490.7 765.9 L491.5 782.6 L492.4 797.3 L493.2 806.8 L494.1 811.8 L494.9 814.3 L495.8 815.5 L496.6 816.1 L497.5 816.5 L498.3 816.6 L499.2 816.7 L500.0 816.6 L500.9 816.6 L501.7 816.5 L502.6 816.4 L503.4 816.4 L504.3 816.4 L505.1 816.4 L506.0 816.5 L506.8 816.5 L507.7 816.6 L508.5 816.7 L509.4 816.8 L510.2 816.8 L511.1 816.9 L511.9 816.9 L512.8 816.9 L513.6 816.7 L514.5 816.2 L515.3 815.4 L516.0 815.0 L517.0 815.4 L517.9 816.0 L518.7 816.4 L519.6 816.6 L520.4 816.7 L521.3 816.7 L522.1 816.7 L523.0 816.5 L523.8 814.7 L524.5 807.0 L525.5 775.7 L526.5 749.9 L527.2 757.5 L528.1 780.1 L528.9 800.1 L529.8 810.0 L530.6 813.7 L531.5 815.1 L532.3 815.9 L533.2 816.2 L534.0 816.3 L534.9 816.3 L535.7 816.3 L536.6 816.2 L537.4 816.2 L538.3 816.3 L539.1 816.3 L540.0 816.4 L540.8 815.9 L541.7 813.5 L542.5 808.1 L543.5 803.8 L544.2 804.7 L545.1 807.7 L545.9 811.2 L546.8 813.9 L547.6 815.5 L548.5 816.2 L549.3 816.2 L550.2 813.7 L551.2 809.0 L551.9 809.3 L552.7 808.8 L553.3 808.5 L554.4 812.2 L555.3 814.9 L556.1 815.9 L557.0 816.2 L557.8 816.4 L558.7 816.5 L559.5 816.6 L560.4 816.6 L561.2 816.7 L562.1 816.8 L562.9 816.8 L563.8 816.8 L564.6 815.8 L565.5 809.0 L566.3 787.4 L567.5 757.5 L568.0 760.3 L568.9 776.0 L569.7 794.5 L570.6 806.7 L571.4 812.3 L572.3 814.5 L573.1 815.5 L574.0 816.0 L574.8 816.4 L575.7 816.6 L576.5 816.7 L577.4 816.7 L578.2 816.7 L579.1 816.7 L579.9 816.7 L580.8 816.7 L581.6 816.7 L582.5 816.7 L583.3 816.5 L584.2 814.7 L585.0 799.2 L585.9 762.3 L586.3 752.8 L587.6 782.2 L588.4 803.8 L589.3 806.7 L590.1 783.4 L591.0 757.2 L591.8 768.8 L592.7 792.5 L593.5 808.0 L594.4 813.8 L595.2 815.8 L596.1 816.5 L596.9 816.8 L597.8 816.8 L598.6 816.7 L599.5 816.7 L600.3 816.6 L601.2 816.5 L602.0 816.4 L602.9 816.4 L603.7 816.4 L604.6 816.4 L605.4 816.5 L606.3 816.6 L607.1 816.6 L608.0 816.7 L608.8 816.8 L609.7 816.8 L610.5 816.8 L611.4 816.7 L612.2 815.7 L613.2 814.0 L613.9 814.5 L614.8 815.8 L615.6 816.5 L616.5 816.6 L617.3 816.5 L618.2 815.0 L619.0 811.0 L620.0 807.4 L620.7 808.5 L621.6 811.6 L622.4 813.4 L623.3 809.4 L623.8 807.2 L625.0 811.3 L626.0 811.0 L626.7 812.9 L627.5 815.7 L628.4 816.6 L629.2 816.8 L630.1 816.8 L630.9 816.8 L631.8 816.7 L632.6 816.6 L633.5 816.0 L634.3 808.8 L635.5 785.7 L636.0 789.2 L636.9 803.5 L637.7 810.8 L638.6 811.0 L639.0 811.0 L640.3 813.3 L641.1 815.1 L642.0 816.0 L642.8 813.4 L644.0 801.5 L644.5 803.5 L645.4 811.3 L646.2 815.4 L647.1 816.3 L647.9 816.7 L648.8 816.8 L649.6 816.8 L650.5 816.7 L651.3 816.7 L652.2 816.7 L653.0 816.4 L653.9 814.7 L654.6 813.5 L655.6 814.6 L656.4 816.0 L657.3 816.6 L658.1 816.7 L659.0 816.8 L659.8 816.8 L660.7 816.7 L661.5 816.7 L662.4 816.7 L663.2 816.8 L664.1 816.8 L664.9 816.9 L665.8 816.9 L666.6 816.9 L667.5 816.9 L668.3 816.9 L669.2 816.9 L670.0 816.9 L670.9 816.9 L671.7 816.9 L672.6 816.9 L673.4 816.9 L674.3 816.8 L675.1 816.8 L676.0 816.8 L676.8 816.7 L677.7 816.7 L678.5 816.7 L679.4 816.6 L680.2 816.7 L681.1 816.7 L681.9 816.7 L682.8 816.7 L683.6 816.8 L684.5 816.8 L685.3 816.8 L686.2 816.9 L687.0 816.8 L687.9 816.5 L688.7 816.0 L689.6 815.4 L690.0 815.3 L691.3 815.7 L692.1 816.1 L693.0 816.5 L693.8 816.7 L694.7 816.8 L695.5 816.8 L696.4 816.8 L697.2 816.8 L698.1 816.6 L698.9 812.7 L699.8 793.1 L700.3 782.0 L701.8 782.0 L702.3 790.5 L703.2 806.2 L704.0 813.8 L704.9 815.9 L705.7 816.5 L706.6 816.2 L707.4 814.1 L708.3 810.8 L708.8 809.8 L710.0 810.6 L710.8 807.2 L711.7 796.2 L712.3 791.2 L713.4 798.4 L714.2 807.6 L715.1 813.0 L715.9 815.0 L716.8 815.8 L717.6 816.2 L718.5 816.5 L719.3 816.7 L720.2 816.7 L721.0 816.8 L721.9 816.7 L722.7 816.2 L723.6 815.0 L724.4 813.4 L725.2 812.6 L726.1 813.1 L727.0 814.2 L727.8 815.3 L728.7 815.9 L729.5 816.1 L730.4 816.2 L731.2 816.3 L732.1 816.5 L732.9 816.7 L733.8 816.7 L734.6 816.4 L735.5 813.7 L736.3 806.7 L736.9 803.8 L738.0 808.3 L738.9 813.2 L739.7 815.5 L740.6 816.2 L741.4 816.4 L742.3 815.8 L743.5 814.3 L744.0 814.5 L744.8 815.4 L745.7 815.7 L746.5 812.2 L747.4 801.7 L748.4 790.9 L749.1 793.2 L749.9 800.5 L750.8 804.5 L751.3 806.0 L752.5 811.7 L753.3 814.8 L754.2 816.0 L755.0 816.4 L755.9 816.5 L756.7 816.6 L757.6 816.6 L758.4 816.6 L759.3 816.7 L760.1 816.7 L761.0 816.8 L761.8 816.8 L762.7 816.9 L763.5 816.9 L764.4 816.9 L765.2 816.9 L766.1 816.9 L766.9 816.9 L767.8 816.9 L768.6 816.9 L769.5 816.8 L770.3 816.8 L771.2 816.7 L772.0 816.5 L772.9 816.4 L773.7 816.3 L774.6 816.4 L775.4 816.5 L776.3 816.6 L777.1 816.8 L778.0 816.8 L778.8 816.9 L779.7 816.8 L780.5 814.8 L781.4 795.9 L782.2 737.9 L782.9 705.3 L783.9 739.0 L784.8 783.0 L785.6 803.3 L786.5 796.6 L787.3 768.6 L787.8 760.5 L789.0 777.9 L789.9 796.9 L790.7 808.8 L791.6 813.9 L792.4 815.8 L793.3 816.3 L794.1 816.4 L795.0 816.3 L795.8 816.2 L796.7 816.2 L797.5 816.4 L798.4 816.6 L799.2 816.8 L800.1 816.8 L800.9 816.6 L801.8 815.4 L802.6 811.4 L803.5 805.0 L804.3 801.5 L805.2 803.4 L806.0 807.9 L806.9 812.1 L807.7 814.7 L808.6 815.8 L809.4 816.3 L810.3 816.6 L811.1 816.7 L812.0 816.8 L812.8 816.5 L813.7 813.3 L814.8 805.5 L815.4 806.4 L816.2 809.6 L817.0 811.0 L817.9 808.6 L818.8 790.6 L819.5 776.3 L820.5 789.7 L821.3 802.4 L822.2 786.7 L823.0 742.1 L823.6 725.3 L824.7 750.5 L825.6 766.3 L826.2 770.0 L827.3 794.5 L828.1 809.2 L829.0 813.9 L829.8 815.0 L830.7 813.7 L831.2 813.0 L832.4 814.5 L833.2 813.9 L834.2 811.5 L834.9 812.6 L835.8 814.9 L836.6 816.1 L837.5 816.5 L838.3 816.7 L839.2 816.8 L840.0 816.8 L840.9 816.8 L841.7 816.6 L842.6 815.2 L843.4 810.8 L844.4 806.2 L845.1 807.6 L846.0 811.6 L846.8 814.7 L847.7 815.8 L848.5 815.2 L849.4 810.5 L850.2 793.4 L851.0 770.0 L851.9 748.4 L852.8 726.6 L853.6 708.4 L854.1 704.8 L855.3 714.5 L856.2 730.7 L857.0 750.4 L857.9 769.5 L858.7 785.3 L859.6 796.7 L860.4 804.3 L861.3 808.9 L862.1 811.7 L863.0 813.4 L863.8 814.5 L864.7 815.3 L865.5 815.8 L866.4 816.1 L867.2 816.3 L868.1 816.4 L868.9 816.5 L869.8 816.2 L870.6 813.3 L871.7 807.4 L872.3 808.7 L873.2 812.8 L874.0 815.3 L874.9 816.0 L875.7 816.3 L876.6 816.1 L877.4 815.3 L878.0 815.0 L879.1 815.4 L880.0 815.9 L880.8 816.1 L881.7 816.1 L882.5 816.2 L883.4 816.3 L884.2 816.5 L885.1 816.6 L885.9 816.7 L886.8 816.8 L887.6 816.8 L888.5 816.9 L889.3 816.9 L890.2 816.9 L891.0 816.9 L891.9 816.9 L892.7 816.9 L893.6 816.9 L894.4 816.2 L895.3 813.3 L896.0 811.0 L897.0 812.9 L897.8 815.4 L898.7 816.3 L899.5 816.5 L900.4 816.4 L901.2 816.3 L902.1 816.2 L902.9 814.1 L903.8 804.0 L904.5 796.2 L905.5 802.6 L906.3 808.4 L907.4 808.0 L908.0 809.4 L908.9 812.9 L909.7 815.3 L910.6 816.0 L911.4 816.1 L912.3 816.0 L913.1 815.7 L914.0 815.3 L914.8 814.7 L915.7 814.1 L916.5 813.2 L917.4 812.2 L918.2 811.1 L919.1 809.8 L919.9 808.3 L920.8 806.7 L921.6 804.9 L922.5 803.3 L923.3 801.9 L924.2 800.7 L925.0 799.6 L925.9 798.7 L926.7 798.0 L927.6 797.7 L928.4 797.8 L929.3 798.2 L930.1 798.8 L931.0 799.7 L931.8 800.8 L932.7 802.1 L933.5 803.4 L934.4 804.7 L935.2 806.1 L936.1 807.4 L936.9 808.6 L937.8 809.8 L938.6 810.9 L939.5 811.9 L940.3 812.8 L941.2 813.6 L942.0 814.3 L942.9 814.9 L943.7 815.4 L944.6 815.7 L945.4 816.0 L946.3 816.3 L947.1 816.4 L948.0 816.4 L948.8 816.3 L949.7 816.1 L950.5 816.1 L951.4 816.4 L952.2 816.7 L953.1 816.8 L953.9 816.9 L954.8 816.8 L955.6 816.5 L956.5 815.8 L957.3 814.8 L958.0 814.5 L959.0 814.9 L959.9 815.5 L960.7 815.5 L961.6 813.3 L962.2 812.0 L963.3 813.7 L964.1 815.1 L965.0 815.2 L965.8 814.4 L966.7 813.4 L967.5 812.7 L968.0 812.5 L969.2 812.9 L970.1 813.2 L970.9 808.0 L971.8 779.0 L972.8 737.6 L973.5 748.5 L974.3 780.4 L975.2 802.0 L976.0 809.0 L976.9 810.6 L977.7 810.9 L978.6 810.4 L979.4 809.7 L980.3 809.2 L981.1 809.0 L982.0 809.3 L982.8 809.9 L983.7 810.8 L984.5 811.6 L985.4 809.6 L986.2 790.1 L987.1 734.0 L988.0 685.1 L988.8 700.5 L989.6 742.3 L990.5 780.1 L991.3 800.0 L992.2 806.9 L993.0 808.7 L994.0 809.5 L994.7 810.3 L995.6 811.6 L996.4 813.0 L997.3 814.2 L998.1 815.0 L999.0 813.1 L999.8 791.9 L1000.7 730.7 L1001.3 701.0 L1002.4 736.6 L1003.2 764.6 L1004.1 738.7 L1004.9 710.5 L1005.8 729.4 L1006.6 765.7 L1007.5 793.6 L1008.3 805.0 L1009.5 808.0 L1010.0 809.4 L1010.9 812.3 L1011.7 814.6 L1012.6 813.4 L1013.4 802.8 L1014.1 795.6 L1015.1 802.2 L1016.0 810.6 L1016.8 814.8 L1017.7 816.1 L1018.5 816.5 L1019.4 816.5 L1020.2 816.5 L1021.1 816.4 L1021.9 816.4 L1022.8 816.5 L1023.6 816.6 L1024.5 816.7 L1025.3 816.8 L1026.2 816.8 L1027.0 816.9 L1027.9 816.8 L1028.7 816.0 L1029.6 813.2 L1030.4 808.9 L1031.1 807.0 L1032.1 808.8 L1033.0 812.0 L1033.8 814.4 L1034.7 815.6 L1035.5 816.0 L1036.4 814.2 L1037.2 801.9 L1038.1 774.7 L1038.7 762.8 L1039.8 775.4 L1040.6 793.9 L1041.5 806.8 L1042.3 812.5 L1043.2 814.8 L1044.0 815.8 L1044.9 816.3 L1045.7 815.7 L1046.6 813.9 L1047.0 813.5 L1048.3 815.0 L1049.1 816.2 L1050.0 816.6 L1050.8 816.8 L1051.7 816.9 L1052.5 816.9 L1053.4 816.8 L1054.2 816.2 L1055.1 812.2 L1055.9 795.5 L1056.8 753.6 L1057.6 696.6 L1058.4 669.6 L1059.3 684.0 L1060.2 718.4 L1061.0 755.7 L1061.9 783.7 L1062.7 800.0 L1063.6 808.0 L1064.4 811.2 L1065.3 811.7 L1066.0 812.0 L1067.0 813.5 L1067.8 814.3 L1068.7 811.5 L1069.2 810.0 L1070.4 813.7 L1071.2 815.5 L1072.1 811.8 L1073.3 798.6 L1073.8 800.1 L1074.6 808.2 L1075.5 814.0 L1076.3 815.7 L1077.2 816.1 L1078.0 814.8 L1078.9 810.6 L1079.5 808.5 L1080.6 810.9 L1081.4 811.6 L1082.6 808.5 L1083.1 809.4 L1084.0 812.6 L1084.8 814.8 L1085.7 814.0 L1086.5 811.6 L1087.0 811.0 L1088.2 812.8 L1089.1 814.6 L1089.9 815.3 L1090.8 815.0 L1091.6 814.0 L1092.5 813.2 L1093.0 813.0 L1094.2 813.3 L1095.0 813.9 L1095.9 814.6 L1096.7 815.2 L1097.6 815.6 L1098.4 814.6 L1099.3 801.1 L1100.2 773.0 L1101.0 769.6 L1101.8 773.0 L1102.7 789.1 L1103.5 802.4 L1104.4 803.2 L1104.8 803.0 L1106.1 809.6 L1106.9 814.0 L1107.8 815.8 L1108.6 816.3 L1109.5 816.4 L1110.3 816.5 L1111.2 816.4 L1112.0 816.3 L1112.9 816.3 L1113.7 816.2 L1114.6 816.2 L1115.4 816.2 L1116.3 816.2 L1117.1 816.1 L1118.0 815.5 L1118.8 814.5 L1120.0 813.5 L1120.5 813.7 L1121.4 814.4 L1122.2 815.3 L1123.1 816.1 L1123.9 816.5 L1124.8 816.7 L1125.6 816.8 L1126.5 816.8 L1127.3 816.7 L1128.2 816.5 L1129.0 816.3 L1129.9 816.3 L1130.7 816.5 L1131.6 816.7 L1132.4 816.6 L1133.3 814.7 L1134.1 804.2 L1135.0 774.5 L1135.8 734.5 L1136.4 722.0 L1137.5 738.8 L1138.4 765.7 L1139.2 789.4 L1140.1 803.8 L1140.9 810.7 L1141.8 813.8 L1142.6 815.3 L1143.5 816.0 L1144.3 816.4 L1145.2 816.5 L1146.0 816.5 L1146.9 816.5 L1147.7 816.5 L1148.6 816.5 L1149.4 816.6 L1150.3 816.6 L1151.1 816.7 L1152.0 816.7 L1152.8 816.5 L1153.7 814.8 L1154.5 810.9 L1155.4 808.0 L1156.2 809.3 L1157.1 812.4 L1157.9 814.9 L1158.8 816.1 L1159.6 816.5 L1160.5 816.7 L1161.3 816.7 L1162.2 816.7 L1163.0 816.6 L1163.9 816.6 L1164.7 816.7 L1165.6 816.8 L1166.4 816.9 L1167.3 816.9 L1168.1 816.9 L1169.0 816.9 L1169.8 816.9 L1170.7 816.9 L1171.5 816.9 L1172.4 815.8 L1173.2 808.6 L1173.9 802.5 L1174.9 804.0 L1175.8 803.0 L1176.6 808.1 L1177.5 813.9 L1178.3 816.1 L1179.2 816.6 L1180.0 816.8 L1180.9 816.8 L1181.7 816.8 L1182.6 816.7 L1183.4 816.7 L1184.3 816.7 L1185.1 816.6 L1186.0 815.6 L1186.8 807.7 L1187.7 775.8 L1188.5 713.7 L1189.4 672.3 L1190.2 687.2 L1191.1 727.1 L1191.9 767.4 L1192.8 794.6 L1193.6 806.2 L1194.5 811.6 L1195.3 814.2 L1196.2 815.5 L1197.0 816.2 L1197.9 816.5 L1198.7 816.6 L1199.6 814.3 L1200.5 808.0 L1201.3 808.8 L1202.1 801.7 L1202.9 792.7 L1203.8 800.2 L1204.7 810.4 L1205.5 814.3 L1206.4 809.6 L1207.2 779.0 L1208.1 696.4 L1209.3 586.9 L1209.8 593.4 L1210.6 641.1 L1211.5 706.6 L1212.3 759.5 L1213.1 789.7 L1214.0 802.8 L1214.8 806.7 L1216.0 808.0 L1216.5 808.9 L1217.4 810.3 L1218.2 810.3 L1219.1 809.1 L1219.9 808.5 L1220.8 809.7 L1221.6 811.4 L1222.5 812.5 L1223.3 812.5 L1224.2 811.8 L1225.0 811.5 L1225.9 811.9 L1226.7 812.7 L1227.6 813.7 L1228.4 814.7 L1229.3 814.4 L1230.1 797.6 L1231.0 733.3 L1231.5 710.3 L1232.7 762.0 L1233.5 779.8 L1234.7 754.3 L1235.2 760.4 L1236.1 781.6 L1236.9 800.1 L1237.8 806.6 L1238.5 808.0 L1239.5 811.2 L1240.3 810.5 L1241.2 798.8 L1242.0 780.9 L1242.5 777.2 L1243.7 788.2 L1244.6 800.8 L1245.4 809.6 L1246.3 813.8 L1247.1 815.5 L1248.0 816.3 L1248.8 816.6 L1249.7 816.7 L1250.5 816.4 L1251.4 815.6 L1252.2 814.5 L1253.0 814.0 L1253.9 814.3 L1254.8 815.0 L1255.6 815.7 L1256.5 816.0 L1257.3 816.2 L1258.2 816.4 L1259.0 816.5 L1259.9 816.7 L1260.7 816.6 L1261.6 814.8 L1262.7 811.0 L1263.3 811.9 L1264.1 814.6 L1265.0 816.2 L1265.8 816.6 L1266.7 816.7 L1267.5 815.7 L1268.4 808.3 L1269.2 792.7 L1269.7 788.9 L1270.9 799.3 L1271.8 809.0 L1272.6 814.0 L1273.5 815.7 L1274.3 816.2 L1275.2 816.3 L1276.0 816.3 L1276.9 816.2 L1277.7 816.1 L1278.6 816.2 L1279.4 816.3 L1280.3 816.4 L1281.1 816.6 L1282.0 816.7 L1282.8 816.6 L1283.7 815.7 L1284.5 813.4 L1285.5 811.5 L1286.2 812.1 L1287.1 813.5 L1287.9 813.0 L1289.0 811.0 L1289.6 812.0 L1290.5 814.3 L1291.3 816.0 L1292.2 816.6 L1293.0 816.7 L1293.9 815.8 L1294.7 808.9 L1295.8 796.2 L1296.4 798.5 L1297.3 805.6 L1298.1 809.2 L1299.0 810.0 L1299.8 810.8 L1300.7 811.9 L1301.5 813.1 L1302.4 814.2 L1303.2 815.0 L1304.1 815.6 L1304.9 815.9 L1305.8 816.1 L1306.6 816.2 L1307.5 816.2 L1308.3 816.3 L1309.2 816.4 L1310.0 816.4 L1310.9 816.5 L1311.7 816.3 L1312.6 812.2 L1313.4 798.3 L1314.0 792.7 L1315.1 802.0 L1316.0 811.0 L1316.8 815.0 L1317.7 816.2 L1318.5 816.5 L1319.4 815.1 L1320.2 810.7 L1320.7 809.5 L1321.9 813.0 L1322.8 814.2 L1323.6 810.7 L1324.2 809.0 L1325.3 811.3 L1326.2 812.4 L1327.0 812.5 L1327.9 813.4 L1328.7 814.8 L1329.6 815.9 L1330.4 816.5 L1331.3 816.7 L1332.1 816.8 L1333.0 816.8 L1333.8 816.9 L1334.7 816.9 L1335.5 816.9 L1336.4 816.8 L1337.2 816.7 L1338.1 816.6 L1338.9 816.5 L1339.8 816.5 L1340.6 816.4 L1341.5 816.3 L1342.3 816.2 L1343.2 815.8 L1344.0 815.1 L1344.9 814.1 L1345.7 813.2 L1347.0 812.5 L1347.4 812.5 L1348.3 812.9 L1349.1 813.4 L1350.0 814.1 L1350.8 814.8 L1351.7 815.3 L1352.5 815.7 L1353.4 815.9 L1354.2 816.1 L1355.1 816.2 L1355.9 816.3 L1356.8 816.4 L1357.6 816.5 L1358.5 816.6 L1359.3 816.7 L1360.2 816.8 L1361.0 816.8 L1361.9 816.9 L1362.7 816.9 L1363.6 816.5 L1364.4 814.5 L1365.2 813.0 L1366.1 814.3 L1367.0 815.9 L1367.8 816.6 L1368.7 816.8 L1369.5 816.8 L1370.4 816.9 L1371.2 816.7 L1372.1 815.5 L1372.9 809.4 L1373.8 792.0 L1374.6 766.7 L1375.4 755.4 L1376.3 763.9 L1377.2 781.0 L1378.0 797.2 L1378.9 807.5 L1379.7 812.4 L1380.6 814.3 L1381.4 813.4 L1382.3 807.8 L1382.8 806.0 L1384.0 811.0 L1384.8 814.6 L1385.7 815.5 L1386.5 814.5 L1387.4 813.5 L1388.2 814.3 L1389.1 815.7 L1389.9 816.5 L1390.8 816.7 L1391.6 816.8 L1392.5 816.9 L1393.3 816.9 L1394.2 816.9 L1395.0 816.9 L1395.9 816.9 L1396.7 816.8 L1397.6 815.9 L1398.4 811.4 L1399.2 808.0 L1400.1 810.4 L1401.0 811.3 L1401.6 811.0 L1402.7 813.8 L1403.5 815.6 L1404.4 816.1 L1405.2 816.2 L1406.1 816.2 L1406.9 816.2 L1407.8 815.8 L1408.6 813.6 L1409.5 809.8 L1410.0 808.8 L1411.2 811.6 L1412.0 814.3 L1412.9 815.8 L1413.7 816.3 L1414.6 816.6 L1415.4 816.7 L1416.3 816.8 L1417.1 816.8 L1418.0 816.7 L1418.8 816.4 L1419.7 816.0 L1420.5 815.3 L1421.4 814.6 L1422.2 814.0 L1423.0 813.8 L1423.9 813.9 L1424.8 814.3 L1425.6 814.8 L1426.5 815.3 L1427.3 815.8 L1428.2 816.1 L1429.0 816.3 L1429.9 816.3 L1430.7 816.3 L1431.6 816.3 L1432.4 816.3 L1433.3 816.3 L1434.1 816.3 L1435.0 816.3 L1435.8 816.4 L1436.7 816.4 L1437.5 816.4 L1438.4 816.5 L1439.2 816.5 L1440.1 816.5 L1440.9 816.6 L1441.8 816.6 L1442.6 816.7 L1443.5 816.7 L1444.3 816.4 L1445.2 815.3 L1446.0 813.6 L1446.7 813.0 L1447.7 813.8 L1448.6 815.1 L1449.4 816.0 L1450.3 816.4 L1451.1 816.6 L1452.0 816.6 L1452.8 816.6 L1453.7 816.5 L1454.5 816.4 L1455.4 816.4 L1456.2 816.3 L1457.1 816.2 L1457.9 816.2 L1458.8 816.2 L1459.6 816.3 L1460.5 816.3 L1461.3 816.4 L1462.2 816.5 L1463.0 816.6 L1463.9 816.7 L1464.7 816.7 L1465.6 816.7 L1466.4 816.7 L1467.3 816.7 L1468.1 816.7 L1469.0 816.7 L1469.8 816.4 L1470.7 815.3 L1471.5 814.5 L1472.4 815.1 L1473.2 816.1 L1474.1 816.6 L1474.9 816.7 L1475.8 816.7 L1476.6 816.7 L1477.5 816.6 L1478.3 816.6 L1479.2 816.5 L1480.0 816.4 L1480.9 816.4 L1481.7 816.3 L1482.6 816.3 L1483.4 815.0 L1484.3 803.8 L1485.1 763.9 L1486.2 717.1 L1486.8 725.0 L1487.7 753.6 L1488.5 783.2 L1489.4 801.4 L1490.0 808.0 L1491.1 813.5 L1491.9 815.3 L1492.8 816.1 L1493.6 816.5 L1494.5 816.6 L1495.3 816.6 L1496.2 816.6 L1497.0 816.5 L1497.9 816.4 L1498.7 816.4 L1499.6 816.4 L1500.4 816.4 L1501.3 816.4 L1502.1 816.5 L1503.0 816.5 L1503.8 816.5 L1504.7 815.3 L1505.5 806.1 L1506.4 776.7 L1507.6 736.1 L1508.1 739.1 L1508.9 757.2 L1509.8 780.3 L1510.6 797.3 L1511.5 806.2 L1512.0 809.0 L1513.2 812.4 L1514.0 813.7 L1514.9 814.4 L1515.7 814.4 L1516.6 813.7 L1517.4 813.1 L1518.0 813.0 L1519.1 813.5 L1520.0 814.3 L1520.8 815.1 L1521.7 815.8 L1522.5 816.2 L1523.4 816.5 L1524.2 816.6 L1525.1 816.7 L1525.9 816.7 L1526.8 816.7 L1527.6 816.7 L1528.5 816.7 L1529.3 816.6 L1530.2 816.1 L1531.0 814.7 L1532.2 813.0 L1532.7 813.3 L1533.6 814.4 L1534.4 815.6 L1535.3 816.3 L1536.1 816.6 L1537.0 816.7 L1537.8 816.8 L1538.7 816.8 L1539.5 816.9 L1540.4 816.9 L1541.2 816.9 L1542.1 816.9 L1542.9 816.2 L1543.8 808.3 L1544.6 769.0 L1545.5 699.0 L1546.0 680.1 L1547.2 720.5 L1548.0 766.9 L1548.9 796.2 L1549.7 808.7 L1550.6 813.4 L1551.4 815.5 L1552.3 816.3 L1553.1 816.6 L1554.0 816.6 L1554.8 816.6 L1555.7 816.5 L1556.5 816.0 L1557.4 811.9 L1558.2 794.0 L1559.1 760.2 L1559.8 744.9 L1560.8 755.9 L1561.6 776.2 L1562.5 794.5 L1563.3 805.5 L1564.0 810.0 L1565.0 813.4 L1565.9 814.8 L1566.7 815.6 L1567.6 816.1 L1568.4 816.4 L1569.3 816.6 L1570.1 816.7 L1571.0 816.8 L1571.8 816.8 L1572.7 816.9 L1573.5 816.9 L1574.4 816.9 L1575.2 816.9 L1576.1 816.9 L1576.9 816.9 L1577.8 816.8 L1578.6 816.8 L1579.5 816.7 L1580.3 816.6 L1581.2 816.5 L1582.0 816.4 L1582.9 815.9 L1584.0 815.0 L1584.6 815.3 L1585.4 816.0 L1586.3 816.6 L1587.1 816.8 L1588.0 816.9 L1588.8 816.9 L1589.7 816.9 L1590.5 816.9 L1591.4 816.8 L1592.2 815.7 L1593.1 810.7 L1594.1 804.4 L1594.8 806.4 L1595.6 811.4 L1596.5 814.1 L1597.3 813.2 L1598.0 812.5 L1599.0 814.1 L1599.9 815.7 L1600.7 816.5 L1601.6 816.7 L1602.4 816.8 L1603.3 816.5 L1604.1 812.9 L1605.0 800.5 L1605.8 791.2 L1606.7 797.5 L1607.5 807.8 L1608.4 813.3 L1609.2 815.0 L1610.1 815.6 L1610.9 815.9 L1611.8 815.1 L1612.6 804.5 L1613.5 766.3 L1614.3 737.9 L1615.2 754.2 L1616.0 782.8 L1616.9 800.6 L1618.0 808.0 L1618.6 809.9 L1619.4 812.2 L1620.3 814.1 L1621.1 815.4 L1622.0 816.2 L1622.8 816.5 L1623.7 816.7 L1624.5 816.8 L1625.4 816.8 L1626.2 816.8 L1627.1 816.8 L1627.9 816.7 L1628.8 816.6 L1629.6 816.5 L1630.5 816.5 L1631.3 816.5 L1632.2 816.6 L1633.0 816.7 L1633.9 816.7 L1634.7 816.7 L1635.6 816.6 L1636.4 816.5 L1637.3 816.4 L1638.1 816.3 L1639.0 816.2 L1639.8 816.2 L1640.7 816.2 L1641.5 816.2 L1642.4 816.3 L1643.2 815.9 L1644.1 811.5 L1644.9 792.4 L1645.8 761.4 L1646.3 753.4 L1647.5 774.0 L1648.3 796.1 L1649.2 808.7 L1650.0 813.3 L1650.9 815.1 L1651.7 816.0 L1652.6 816.5 L1653.4 816.7 L1654.3 816.1 L1655.1 810.5 L1656.0 788.8 L1656.8 754.4 L1657.4 744.3 L1658.5 761.4 L1659.4 784.0 L1660.2 798.8 L1661.1 803.5 L1661.8 805.0 L1662.8 808.1 L1663.6 811.1 L1664.5 813.6 L1665.3 815.2 L1666.2 815.9 L1667.0 816.2 L1667.9 816.4 L1668.7 816.5 L1669.6 816.6 L1670.4 816.7 L1671.3 816.8 L1672.1 816.9 L1673.0 816.9 L1673.8 816.9 L1674.7 816.9 L1675.5 816.9 L1676.4 816.9 L1677.2 816.9 L1678.1 816.9 L1678.9 816.9 L1679.8 816.9 L1680.6 816.8 L1681.5 816.7 L1682.3 816.6 L1683.2 816.4 L1684.0 816.2 L1684.9 816.2 L1685.7 816.3 L1686.6 816.4 L1687.4 816.6 L1688.3 816.6 L1689.1 816.6 L1690.0 816.6 L1690.8 816.6 L1691.7 816.6 L1692.5 816.6 L1693.4 816.7 L1694.2 816.7 L1695.1 816.8 L1695.9 816.8 L1696.8 815.1 L1697.6 802.6 L1698.5 773.2 L1699.0 761.6 L1700.2 761.3 L1701.0 769.0 L1701.9 782.8 L1702.7 796.3 L1703.6 806.9 L1704.4 812.6 L1705.3 815.0 L1706.1 815.9 L1707.0 816.3 L1707.8 816.5 L1708.7 816.6 L1709.5 816.7 L1710.4 816.7 L1711.2 816.7 L1712.1 816.8 L1712.9 816.7 L1713.8 816.0 L1715.0 814.5 L1715.5 814.7 L1716.3 815.7 L1717.2 816.4 L1718.0 816.6 L1718.9 815.1 L1719.7 808.4 L1720.6 795.6 L1721.3 789.8 L1722.3 794.8 L1723.1 803.3 L1724.0 810.2 L1724.8 813.8 L1725.7 815.3 L1726.5 815.9 L1727.4 816.3 L1728.2 816.6 L1729.1 816.8 L1729.9 816.9 L1730.8 816.9 L1731.6 816.9 L1732.5 816.9 L1733.3 816.9 L1734.2 816.9 L1735.0 816.9 L1735.9 816.9 L1736.7 816.9 L1737.6 816.9 L1738.4 816.9 L1739.3 816.9 L1740.1 816.9 L1741.0 816.8 L1741.8 816.8 L1742.7 816.2 L1743.5 814.2 L1744.2 813.0 L1745.2 814.4 L1746.1 815.8 L1746.9 816.3 L1747.8 816.5 L1748.6 816.5 L1749.5 816.6 L1750.3 816.6 L1751.2 816.7 L1752.0 816.7 L1752.9 816.7 L1753.7 816.7 L1754.6 816.5 L1755.4 815.6 L1756.3 812.5 L1757.1 808.2 L1757.6 807.3 L1758.8 810.4 L1759.7 813.5 L1760.5 815.4 L1761.4 816.2 L1762.2 816.4 L1763.1 814.4 L1763.9 797.5 L1764.7 781.3 L1765.6 795.2 L1766.5 809.8 L1767.3 814.3 L1768.2 814.2 L1769.0 809.8 L1769.7 807.3 L1770.7 811.0 L1771.6 814.7 L1772.4 816.1 L1773.3 816.4 L1774.1 815.9 L1775.0 814.4 L1775.5 814.0 L1776.7 815.1 L1777.5 816.0 L1778.4 816.5 L1779.2 816.6 L1780.1 816.8 L1780.9 816.8 L1781.8 816.9 L1782.6 816.9 L1783.5 816.9 L1784.3 816.9 L1785.2 816.9 L1786.0 816.5 L1786.9 809.9 L1787.7 767.3 L1789.0 669.6 L1789.4 677.7 L1790.3 727.5 L1791.1 777.4 L1792.0 802.3 L1792.8 810.8 L1793.7 813.9 L1794.5 815.2 L1795.4 815.6 L1796.2 815.6 L1797.1 815.2 L1797.9 814.5 L1798.8 813.6 L1799.6 812.4 L1800.5 811.0 L1801.3 809.3 L1802.2 807.4 L1803.0 805.4 L1803.9 803.4 L1804.7 801.4 L1805.6 799.7 L1806.4 798.4 L1807.3 797.5 L1808.1 797.1 L1809.0 797.2 L1809.8 797.6 L1810.7 798.3 L1811.5 799.2 L1812.4 800.3 L1813.2 801.5 L1814.1 802.8 L1814.9 804.3 L1815.8 805.8 L1816.6 807.2 L1817.5 808.6 L1818.3 809.8 L1819.2 811.0 L1820.0 812.0 L1820.9 812.8 L1821.7 813.5 L1822.6 814.0 L1823.4 814.1 L1824.3 813.7 L1825.1 812.8 L1826.0 812.5 L1826.8 813.0 L1827.7 814.0 L1828.5 815.0 L1829.4 815.7 L1830.2 816.1 L1831.1 816.3 L1831.9 816.5 L1832.8 816.6 L1833.6 816.7 L1834.5 816.8 L1835.3 816.8 L1836.2 816.8 L1837.0 816.7 L1837.9 816.7 L1838.7 816.6 L1839.6 816.5 L1840.4 816.4 L1841.3 816.3 L1842.1 816.2 L1843.0 815.9 L1843.8 810.7 L1844.7 771.1 L1845.9 679.3 L1846.4 689.5 L1847.2 740.2 L1848.1 784.7 L1848.9 803.7 L1849.8 809.2 L1851.0 811.5 L1851.5 811.9 L1852.3 812.4 L1853.2 812.6 L1854.0 812.5 L1854.9 812.4 L1856.0 812.5 L1856.6 812.9 L1857.4 813.6 L1858.3 814.5 L1859.1 815.2 L1860.0 815.8 L1860.8 816.2 L1861.7 816.5 L1862.5 816.6 L1863.4 816.7 L1864.2 816.8 L1865.1 816.8 L1865.9 816.8 L1866.8 816.9 L1867.6 816.9 L1868.5 816.8 L1869.3 816.6 L1870.2 815.7 L1871.0 814.6 L1871.5 814.3 L1872.7 815.1 L1873.6 815.9 L1874.4 816.4 L1875.3 816.6 L1876.1 816.7 L1877.0 816.8 L1877.8 816.8 L1878.7 816.9 L1879.5 816.9 L1880.4 816.9 L1881.2 816.8 L1882.1 816.8 L1882.9 816.7 L1883.8 816.6 L1884.6 816.6 L1885.5 816.5 L1886.3 816.6 L1887.2 816.6 L1888.0 816.7 L1888.9 816.8 L1889.7 816.8 L1890.6 816.9 L1891.4 816.8 L1892.3 816.8 L1893.1 816.8 L1894.0 816.8 L1894.8 816.8 L1895.7 816.7 L1896.5 813.1 L1897.4 777.7 L1898.6 681.0 L1899.1 690.9 L1899.6 720.0 L1900.8 790.0 L1901.6 808.3 L1902.5 813.8 L1903.3 815.7 L1904.2 816.1 L1905.0 815.9 L1905.9 815.6 L1906.7 815.4 L1907.6 815.3 L1908.4 815.1 L1909.3 814.8 L1910.1 814.6 L1911.0 814.5 L1911.8 814.6 L1912.7 814.9 L1913.5 815.2 L1914.4 815.6 L1915.2 816.0 L1916.1 816.3 L1916.9 816.6 L1917.8 816.7 L1918.6 816.8 L1919.5 816.9 L1920.3 816.9 L1921.2 816.9 L1922.0 816.9 L1922.9 816.9 L1923.7 816.8 L1924.6 816.8 L1925.4 816.7 L1926.3 816.7 L1927.1 816.6 L1928.0 816.7 L1928.8 816.7 L1929.7 816.8 L1930.5 816.8 L1931.4 816.9 L1932.2 816.9 L1933.1 816.9 L1933.9 816.9 L1934.8 816.9 L1935.6 816.9 L1936.5 816.9 L1937.3 816.9 L1938.2 816.9 L1939.0 816.9 L1939.9 816.9 L1940.7 816.9 L1941.6 816.8 L1942.4 816.7 L1943.3 816.6 L1944.1 816.5 L1945.0 816.3 L1945.8 816.2 L1946.7 816.2 L1947.5 816.0 L1948.4 814.6 L1949.0 813.8 L1950.1 814.5 L1951.0 814.0 L1951.8 815.0 L1952.6 816.1 L1953.5 816.4 L1954.3 816.5 L1955.2 816.6 L1956.0 816.7 L1956.9 816.8 L1957.7 816.8 L1958.6 816.9 L1959.4 816.9 L1960.3 816.9 L1961.1 816.9 L1962.0 816.9 L1962.8 816.9 L1963.7 816.9 L1964.5 816.9 L1965.4 816.9 L1966.2 816.9 L1967.1 816.9 L1967.9 816.9 L1968.8 816.9 L1969.6 816.9 L1970.5 816.8 L1971.3 816.8 L1972.2 816.7 L1973.0 816.7 L1973.9 816.7 L1974.7 816.7 L1975.6 816.7 L1976.4 816.8" fill="none" stroke="#2c2c2c" stroke-width="1" stroke-linejoin="round"/>
<path d="M449.0 199.0 V233.8" stroke="#1d9bc5" stroke-width="3.7" fill="none"/><path d="M449.0 248.6 L441.0 230.0 L449.0 232.8 L457.0 230.0 Z" fill="#1d9bc5"/>
<path d="M470.9 199.0 V233.8" stroke="#1d9bc5" stroke-width="3.7" fill="none"/><path d="M470.9 248.6 L462.9 230.0 L470.9 232.8 L478.9 230.0 Z" fill="#1d9bc5"/>
<path d="M529.9 199.0 V233.8" stroke="#1d9bc5" stroke-width="3.7" fill="none"/><path d="M529.9 248.6 L521.9 230.0 L529.9 232.8 L537.9 230.0 Z" fill="#1d9bc5"/>
<path d="M591.8 199.0 V233.8" stroke="#1d9bc5" stroke-width="3.7" fill="none"/><path d="M591.8 248.6 L583.8 230.0 L591.8 232.8 L599.8 230.0 Z" fill="#1d9bc5"/>
<path d="M460.0 186.2 V221.2" stroke="#1d9bc5" stroke-width="3.7" fill="none"/><path d="M460.0 236.0 L452.0 217.4 L460.0 220.2 L468.0 217.4 Z" fill="#1d9bc5"/>
<path d="M599.5 239.8 V274.7" stroke="#1d9bc5" stroke-width="3.7" fill="none"/><path d="M599.5 289.5 L591.5 270.9 L599.5 273.7 L607.5 270.9 Z" fill="#1d9bc5"/>
<path d="M711.3 201.0 V236.0" stroke="#1d9bc5" stroke-width="3.7" fill="none"/><path d="M711.3 250.8 L703.3 232.2 L711.3 235.0 L719.3 232.2 Z" fill="#1d9bc5"/>
<path d="M823.0 201.0 V236.0" stroke="#1d9bc5" stroke-width="3.7" fill="none"/><path d="M823.0 250.8 L815.0 232.2 L823.0 235.0 L831.0 232.2 Z" fill="#1d9bc5"/>
<path d="M885.8 201.0 V236.0" stroke="#1d9bc5" stroke-width="3.7" fill="none"/><path d="M885.8 250.8 L877.8 232.2 L885.8 235.0 L893.8 232.2 Z" fill="#1d9bc5"/>
<path d="M1047.5 201.0 V236.0" stroke="#1d9bc5" stroke-width="3.7" fill="none"/><path d="M1047.5 250.8 L1039.5 232.2 L1047.5 235.0 L1055.5 232.2 Z" fill="#1d9bc5"/>
<path d="M1158.9 201.0 V236.0" stroke="#1d9bc5" stroke-width="3.7" fill="none"/><path d="M1158.9 250.8 L1150.9 232.2 L1158.9 235.0 L1166.9 232.2 Z" fill="#1d9bc5"/>
<path d="M1239.8 201.0 V236.0" stroke="#1d9bc5" stroke-width="3.7" fill="none"/><path d="M1239.8 250.8 L1231.8 232.2 L1239.8 235.0 L1247.8 232.2 Z" fill="#1d9bc5"/>
<path d="M1314.1 201.0 V236.0" stroke="#1d9bc5" stroke-width="3.7" fill="none"/><path d="M1314.1 250.8 L1306.1 232.2 L1314.1 235.0 L1322.1 232.2 Z" fill="#1d9bc5"/>
<path d="M1378.9 201.0 V236.0" stroke="#1d9bc5" stroke-width="3.7" fill="none"/><path d="M1378.9 250.8 L1370.9 232.2 L1378.9 235.0 L1386.9 232.2 Z" fill="#1d9bc5"/>
<path d="M1424.1 201.0 V236.0" stroke="#1d9bc5" stroke-width="3.7" fill="none"/><path d="M1424.1 250.8 L1416.1 232.2 L1424.1 235.0 L1432.1 232.2 Z" fill="#1d9bc5"/>
<path d="M1813.7 201.0 V236.0" stroke="#1d9bc5" stroke-width="3.7" fill="none"/><path d="M1813.7 250.8 L1805.7 232.2 L1813.7 235.0 L1821.7 232.2 Z" fill="#1d9bc5"/>
<path d="M1464.8 132.9 V155.0" stroke="#1d9bc5" stroke-width="3.7" fill="none"/><path d="M1464.8 169.8 L1456.8 151.2 L1464.8 154.0 L1472.8 151.2 Z" fill="#1d9bc5"/>
<g font-family="&quot;Liberation Sans&quot;, sans-serif" fill="#000">
<text x="31.0" y="60.0" font-size="38.2" font-weight="700" textLength="36.0" lengthAdjust="spacingAndGlyphs">A.</text>
<text x="212.0" y="59.9" font-size="38.2" font-weight="700" textLength="433.2" lengthAdjust="spacingAndGlyphs">Traditional Chymotrypsin</text>
<text x="212.1" y="98.9" font-size="36.6" font-weight="400" textLength="1014.0" lengthAdjust="spacingAndGlyphs">Many non-specific cleavages and short peptides are generated.</text>
<text x="211.1" y="489.8" font-size="38.2" font-weight="700" textLength="240.9" lengthAdjust="spacingAndGlyphs">rChymoSelect</text>
<text x="455.0" y="484.6" font-size="31.5" font-weight="700" textLength="23.2" lengthAdjust="spacingAndGlyphs">™</text>
<text x="486.5" y="489.8" font-size="38.2" font-weight="700" textLength="390.2" lengthAdjust="spacingAndGlyphs">MS Grade Protease Kit</text>
<text x="211.4" y="532.6" font-size="36.6" font-weight="400" textLength="1378.5" lengthAdjust="spacingAndGlyphs">Simplified chromatographic profile with increased peak intensity for specific peptides.</text>
<text x="1480.0" y="156.7" font-size="32.2" font-weight="400" textLength="453.7" lengthAdjust="spacingAndGlyphs">Semi- and non-specific peptides</text>
<text x="964.0" y="905.6" font-size="35.0" font-weight="700" textLength="246.4" lengthAdjust="spacingAndGlyphs" stroke="#fff" stroke-width="0.55">Time (minutes)</text>
<text transform="translate(175.85,393.15) scale(0.807,1)" font-size="34.2" letter-spacing="1.4" text-anchor="end">0</text>
<text transform="translate(175.85,829.80) scale(0.807,1)" font-size="34.2" letter-spacing="1.4" text-anchor="end">0</text>
<text transform="translate(173.75,343.72) scale(0.807,1)" font-size="34.2" letter-spacing="1.4" text-anchor="end">50</text>
<text transform="translate(173.75,781.93) scale(0.807,1)" font-size="34.2" letter-spacing="1.4" text-anchor="end">50</text>
<text transform="translate(174.35,294.29) scale(0.807,1)" font-size="34.2" letter-spacing="1.4" text-anchor="end">100</text>
<text transform="translate(174.35,734.06) scale(0.807,1)" font-size="34.2" letter-spacing="1.4" text-anchor="end">100</text>
<text transform="translate(174.35,244.86) scale(0.807,1)" font-size="34.2" letter-spacing="1.4" text-anchor="end">150</text>
<text transform="translate(174.35,686.19) scale(0.807,1)" font-size="34.2" letter-spacing="1.4" text-anchor="end">150</text>
<text transform="translate(174.35,195.43) scale(0.807,1)" font-size="34.2" letter-spacing="1.4" text-anchor="end">200</text>
<text transform="translate(174.35,638.32) scale(0.807,1)" font-size="34.2" letter-spacing="1.4" text-anchor="end">200</text>
<text transform="translate(174.35,146.00) scale(0.807,1)" font-size="34.2" letter-spacing="1.4" text-anchor="end">250</text>
<text transform="translate(174.35,590.45) scale(0.807,1)" font-size="34.2" letter-spacing="1.4" text-anchor="end">250</text>
<text transform="translate(192.70,427.10) scale(0.807,1)" font-size="34.2" letter-spacing="1.4" text-anchor="middle">10</text>
<text transform="translate(192.70,868.10) scale(0.807,1)" font-size="34.2" letter-spacing="1.4" text-anchor="middle">10</text>
<text transform="translate(448.55,427.10) scale(0.807,1)" font-size="34.2" letter-spacing="1.4" text-anchor="middle">20</text>
<text transform="translate(448.55,868.10) scale(0.807,1)" font-size="34.2" letter-spacing="1.4" text-anchor="middle">20</text>
<text transform="translate(704.52,427.10) scale(0.807,1)" font-size="34.2" letter-spacing="1.4" text-anchor="middle">30</text>
<text transform="translate(704.52,868.10) scale(0.807,1)" font-size="34.2" letter-spacing="1.4" text-anchor="middle">30</text>
<text transform="translate(960.49,427.10) scale(0.807,1)" font-size="34.2" letter-spacing="1.4" text-anchor="middle">40</text>
<text transform="translate(960.49,868.10) scale(0.807,1)" font-size="34.2" letter-spacing="1.4" text-anchor="middle">40</text>
<text transform="translate(1216.46,427.10) scale(0.807,1)" font-size="34.2" letter-spacing="1.4" text-anchor="middle">50</text>
<text transform="translate(1216.46,868.10) scale(0.807,1)" font-size="34.2" letter-spacing="1.4" text-anchor="middle">50</text>
<text transform="translate(1472.43,427.10) scale(0.807,1)" font-size="34.2" letter-spacing="1.4" text-anchor="middle">60</text>
<text transform="translate(1472.43,868.10) scale(0.807,1)" font-size="34.2" letter-spacing="1.4" text-anchor="middle">60</text>
<text transform="translate(1728.40,427.10) scale(0.807,1)" font-size="34.2" letter-spacing="1.4" text-anchor="middle">70</text>
<text transform="translate(1728.40,868.10) scale(0.807,1)" font-size="34.2" letter-spacing="1.4" text-anchor="middle">70</text>
<g transform="translate(58.4,616.8) rotate(-90)">
<text x="0.0" y="0.0" font-size="37.5" font-weight="700" textLength="262.7" lengthAdjust="spacingAndGlyphs" stroke="#fff" stroke-width="0.55">Absorbance (UV</text>
<text x="273.4" y="10.9" font-size="21.5" font-weight="400" textLength="64.3" lengthAdjust="spacingAndGlyphs" stroke="#000" stroke-width="0.3">210nm</text>
<text x="338.6" y="-1.5" font-size="37.5" font-weight="400">)</text>
</g>
</g>
</svg>
</body></html>
